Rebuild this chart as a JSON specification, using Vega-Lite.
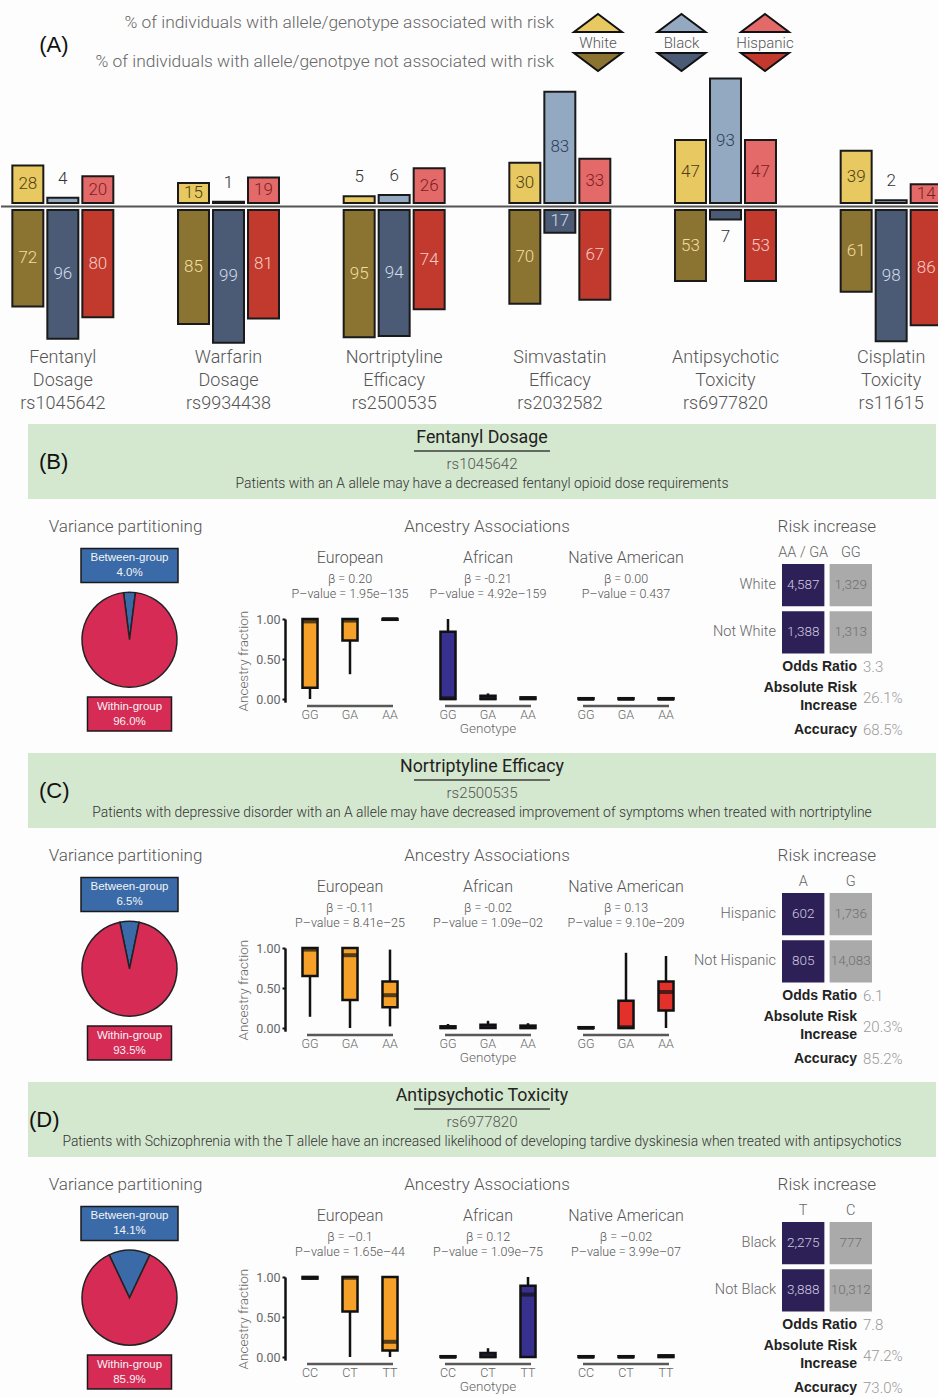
{
"$schema": "https://vega.github.io/schema/vega-lite/v6.json",
"padding": 0,
"background": "#fdfdfd",
"spacing": 0,
"bounds": "flush",
"config": {"view": {"stroke": null}, "font": "Roboto", "text": {"font": "Roboto", "fontWeight": 300}},
"datasets": {
"ancestries": [{"ancestry": "White"}, {"ancestry": "Black"}, {"ancestry": "Hispanic"}],
"legendtext": [{"row": "up", "text": "% of individuals with allele/genotype associated with risk"}, {"row": "down", "text": "% of individuals with allele/genotpye not associated with risk"}],
"drugs": [{"group": "Fentanyl Dosage rs1045642"}, {"group": "Warfarin Dosage rs9934438"}, {"group": "Nortriptyline Efficacy rs2500535"}, {"group": "Simvastatin Efficacy rs2032582"}, {"group": "Antipsychotic Toxicity rs6977820"}, {"group": "Cisplatin Toxicity rs11615"}],
"bars": [
{"group": "Fentanyl Dosage rs1045642", "ancestry": "White", "risk": 28, "norisk": 72},
{"group": "Fentanyl Dosage rs1045642", "ancestry": "Black", "risk": 4, "norisk": 96},
{"group": "Fentanyl Dosage rs1045642", "ancestry": "Hispanic", "risk": 20, "norisk": 80},
{"group": "Warfarin Dosage rs9934438", "ancestry": "White", "risk": 15, "norisk": 85},
{"group": "Warfarin Dosage rs9934438", "ancestry": "Black", "risk": 1, "norisk": 99},
{"group": "Warfarin Dosage rs9934438", "ancestry": "Hispanic", "risk": 19, "norisk": 81},
{"group": "Nortriptyline Efficacy rs2500535", "ancestry": "White", "risk": 5, "norisk": 95},
{"group": "Nortriptyline Efficacy rs2500535", "ancestry": "Black", "risk": 6, "norisk": 94},
{"group": "Nortriptyline Efficacy rs2500535", "ancestry": "Hispanic", "risk": 26, "norisk": 74},
{"group": "Simvastatin Efficacy rs2032582", "ancestry": "White", "risk": 30, "norisk": 70},
{"group": "Simvastatin Efficacy rs2032582", "ancestry": "Black", "risk": 83, "norisk": 17},
{"group": "Simvastatin Efficacy rs2032582", "ancestry": "Hispanic", "risk": 33, "norisk": 67},
{"group": "Antipsychotic Toxicity rs6977820", "ancestry": "White", "risk": 47, "norisk": 53},
{"group": "Antipsychotic Toxicity rs6977820", "ancestry": "Black", "risk": 93, "norisk": 7},
{"group": "Antipsychotic Toxicity rs6977820", "ancestry": "Hispanic", "risk": 47, "norisk": 53},
{"group": "Cisplatin Toxicity rs11615", "ancestry": "White", "risk": 39, "norisk": 61},
{"group": "Cisplatin Toxicity rs11615", "ancestry": "Black", "risk": 2, "norisk": 98},
{"group": "Cisplatin Toxicity rs11615", "ancestry": "Hispanic", "risk": 14, "norisk": 86}
],
"header": [
{"panel": "B", "label": "(B)", "title": "Fentanyl Dosage", "rsid": "rs1045642", "desc": "Patients with an A allele may have a decreased fentanyl opioid dose requirements"},
{"panel": "C", "label": "(C)", "title": "Nortriptyline Efficacy", "rsid": "rs2500535", "desc": "Patients with depressive disorder with an A allele may have decreased improvement of symptoms when treated with nortriptyline"},
{"panel": "D", "label": "(D)", "title": "Antipsychotic Toxicity", "rsid": "rs6977820", "desc": "Patients with Schizophrenia with the T allele have an increased likelihood of developing tardive dyskinesia when treated with antipsychotics"}
],
"pie": [
{"panel": "B", "part": "Between-group", "pct": 4.0, "label": "4.0%"},
{"panel": "B", "part": "Within-group", "pct": 96.0, "label": "96.0%"},
{"panel": "C", "part": "Between-group", "pct": 6.5, "label": "6.5%"},
{"panel": "C", "part": "Within-group", "pct": 93.5, "label": "93.5%"},
{"panel": "D", "part": "Between-group", "pct": 14.1, "label": "14.1%"},
{"panel": "D", "part": "Within-group", "pct": 85.9, "label": "85.9%"}
],
"box": [
{"panel": "B", "ancestry": "European", "genotype": "GG", "min": 0, "q1": 0.14, "median": 0.97, "q3": 1, "max": 1},
{"panel": "B", "ancestry": "European", "genotype": "GA", "min": 0.31, "q1": 0.73, "median": 0.98, "q3": 1, "max": 1},
{"panel": "B", "ancestry": "European", "genotype": "AA", "min": 0.99, "q1": 0.99, "median": 1, "q3": 1, "max": 1},
{"panel": "B", "ancestry": "African", "genotype": "GG", "min": 0, "q1": 0, "median": 0.01, "q3": 0.84, "max": 1},
{"panel": "B", "ancestry": "African", "genotype": "GA", "min": 0, "q1": 0, "median": 0.01, "q3": 0.04, "max": 0.07},
{"panel": "B", "ancestry": "African", "genotype": "AA", "min": 0, "q1": 0, "median": 0.01, "q3": 0.02, "max": 0.03},
{"panel": "B", "ancestry": "Native American", "genotype": "GG", "min": 0, "q1": 0, "median": 0, "q3": 0.01, "max": 0.02},
{"panel": "B", "ancestry": "Native American", "genotype": "GA", "min": 0, "q1": 0, "median": 0, "q3": 0.01, "max": 0.02},
{"panel": "B", "ancestry": "Native American", "genotype": "AA", "min": 0, "q1": 0, "median": 0, "q3": 0.01, "max": 0.02},
{"panel": "C", "ancestry": "European", "genotype": "GG", "min": 0.14, "q1": 0.65, "median": 0.98, "q3": 1, "max": 1},
{"panel": "C", "ancestry": "European", "genotype": "GA", "min": 0, "q1": 0.35, "median": 0.91, "q3": 1, "max": 1},
{"panel": "C", "ancestry": "European", "genotype": "AA", "min": 0.02, "q1": 0.26, "median": 0.41, "q3": 0.58, "max": 0.98},
{"panel": "C", "ancestry": "African", "genotype": "GG", "min": 0, "q1": 0, "median": 0.01, "q3": 0.02, "max": 0.05},
{"panel": "C", "ancestry": "African", "genotype": "GA", "min": 0, "q1": 0, "median": 0.02, "q3": 0.04, "max": 0.09},
{"panel": "C", "ancestry": "African", "genotype": "AA", "min": 0, "q1": 0, "median": 0.01, "q3": 0.03, "max": 0.06},
{"panel": "C", "ancestry": "Native American", "genotype": "GG", "min": 0, "q1": 0, "median": 0, "q3": 0.01, "max": 0.02},
{"panel": "C", "ancestry": "Native American", "genotype": "GA", "min": 0, "q1": 0, "median": 0.01, "q3": 0.34, "max": 0.94},
{"panel": "C", "ancestry": "Native American", "genotype": "AA", "min": 0, "q1": 0.22, "median": 0.45, "q3": 0.58, "max": 0.9},
{"panel": "D", "ancestry": "European", "genotype": "CC", "min": 0.97, "q1": 0.98, "median": 0.99, "q3": 1, "max": 1},
{"panel": "D", "ancestry": "European", "genotype": "CT", "min": 0, "q1": 0.57, "median": 0.99, "q3": 1, "max": 1},
{"panel": "D", "ancestry": "European", "genotype": "TT", "min": 0, "q1": 0.08, "median": 0.19, "q3": 1, "max": 1},
{"panel": "D", "ancestry": "African", "genotype": "CC", "min": 0, "q1": 0, "median": 0, "q3": 0.01, "max": 0.02},
{"panel": "D", "ancestry": "African", "genotype": "CT", "min": 0, "q1": 0, "median": 0.01, "q3": 0.05, "max": 0.11},
{"panel": "D", "ancestry": "African", "genotype": "TT", "min": 0, "q1": 0, "median": 0.78, "q3": 0.89, "max": 1},
{"panel": "D", "ancestry": "Native American", "genotype": "CC", "min": 0, "q1": 0, "median": 0, "q3": 0.01, "max": 0.02},
{"panel": "D", "ancestry": "Native American", "genotype": "CT", "min": 0, "q1": 0, "median": 0, "q3": 0.01, "max": 0.02},
{"panel": "D", "ancestry": "Native American", "genotype": "TT", "min": 0, "q1": 0, "median": 0.01, "q3": 0.02, "max": 0.03}
],
"bstats": [
{"panel": "B", "ancestry": "European", "beta": "β = 0.20", "pval": "P–value = 1.95e–135"},
{"panel": "B", "ancestry": "African", "beta": "β = -0.21", "pval": "P–value = 4.92e–159"},
{"panel": "B", "ancestry": "Native American", "beta": "β = 0.00", "pval": "P–value = 0.437"},
{"panel": "C", "ancestry": "European", "beta": "β = -0.11", "pval": "P–value = 8.41e–25"},
{"panel": "C", "ancestry": "African", "beta": "β = -0.02", "pval": "P–value = 1.09e–02"},
{"panel": "C", "ancestry": "Native American", "beta": "β = 0.13", "pval": "P–value = 9.10e–209"},
{"panel": "D", "ancestry": "European", "beta": "β = –0.1", "pval": "P–value = 1.65e–44"},
{"panel": "D", "ancestry": "African", "beta": "β = 0.12", "pval": "P–value = 1.09e–75"},
{"panel": "D", "ancestry": "Native American", "beta": "β = –0.02", "pval": "P–value = 3.99e–07"}
],
"heat": [
{"panel": "B", "row": "White", "col": "AA / GA", "n": 4587},
{"panel": "B", "row": "White", "col": "GG", "n": 1329},
{"panel": "B", "row": "Not White", "col": "AA / GA", "n": 1388},
{"panel": "B", "row": "Not White", "col": "GG", "n": 1313},
{"panel": "C", "row": "Hispanic", "col": "A", "n": 602},
{"panel": "C", "row": "Hispanic", "col": "G", "n": 1736},
{"panel": "C", "row": "Not Hispanic", "col": "A", "n": 805},
{"panel": "C", "row": "Not Hispanic", "col": "G", "n": 14083},
{"panel": "D", "row": "Black", "col": "T", "n": 2275},
{"panel": "D", "row": "Black", "col": "C", "n": 777},
{"panel": "D", "row": "Not Black", "col": "T", "n": 3888},
{"panel": "D", "row": "Not Black", "col": "C", "n": 10312}
],
"metrics": [
{"panel": "B", "metric": "Odds Ratio", "value": "3.3"},
{"panel": "B", "metric": "Absolute Risk\nIncrease", "value": "26.1%"},
{"panel": "B", "metric": "Accuracy", "value": "68.5%"},
{"panel": "C", "metric": "Odds Ratio", "value": "6.1"},
{"panel": "C", "metric": "Absolute Risk\nIncrease", "value": "20.3%"},
{"panel": "C", "metric": "Accuracy", "value": "85.2%"},
{"panel": "D", "metric": "Odds Ratio", "value": "7.8"},
{"panel": "D", "metric": "Absolute Risk\nIncrease", "value": "47.2%"},
{"panel": "D", "metric": "Accuracy", "value": "73.0%"}
]
},
"vconcat": [
{
"width": 938, "height": 419,
"resolve": {"scale": {"x": "independent", "y": "independent", "color": "independent"}},
"layer": [
{
"resolve": {"scale": {"color": "independent"}},
"layer": [
{"data": {"name": "ancestries"}, "mark": {"type": "point", "shape": "M0,-0.375L1,0.375L-1,0.375Z", "size": 2304, "filled": true, "opacity": 1, "stroke": "#111", "strokeWidth": 2},
 "encoding": {
  "x": {"field": "ancestry", "type": "nominal", "scale": {"type": "point", "domain": ["White", "Black", "Hispanic"], "range": [597, 764], "padding": 0}, "axis": null},
  "y": {"datum": "up", "type": "nominal", "scale": {"type": "point", "domain": ["up", "label", "down"], "range": [23, 62], "padding": 0}, "axis": null},
  "color": {"field": "ancestry", "type": "nominal", "scale": {"domain": ["White", "Black", "Hispanic"], "range": ["#e8c860", "#93a9c2", "#e46a6a"]}, "legend": null}}},
{"data": {"name": "ancestries"}, "mark": {"type": "point", "shape": "M-1,-0.375L1,-0.375L0,0.375Z", "size": 2304, "filled": true, "opacity": 1, "stroke": "#111", "strokeWidth": 2},
 "encoding": {
  "x": {"field": "ancestry", "type": "nominal", "scale": {"type": "point", "domain": ["White", "Black", "Hispanic"], "range": [597, 764], "padding": 0}, "axis": null},
  "y": {"datum": "down", "type": "nominal", "scale": {"type": "point", "domain": ["up", "label", "down"], "range": [23, 62], "padding": 0}, "axis": null},
  "color": {"field": "ancestry", "type": "nominal", "scale": {"domain": ["White", "Black", "Hispanic"], "range": ["#8b7332", "#4b5b75", "#c23a2e"]}, "legend": null}}},
{"data": {"name": "ancestries"}, "mark": {"type": "text", "fontSize": 15, "color": "#555"},
 "encoding": {
  "x": {"field": "ancestry", "type": "nominal", "scale": {"type": "point", "domain": ["White", "Black", "Hispanic"], "range": [597, 764], "padding": 0}, "axis": null},
  "y": {"datum": "label", "type": "nominal", "scale": {"type": "point", "domain": ["up", "label", "down"], "range": [23, 62], "padding": 0}, "axis": null},
  "text": {"field": "ancestry"}}},
{"data": {"name": "legendtext"}, "mark": {"type": "text", "align": "right", "dx": -44, "fontSize": 17.4, "color": "#666"},
 "encoding": {
  "x": {"datum": "White", "type": "nominal", "scale": {"type": "point", "domain": ["White", "Black", "Hispanic"], "range": [597, 764], "padding": 0}, "axis": null},
  "y": {"field": "row", "type": "nominal", "scale": {"type": "point", "domain": ["up", "label", "down"], "range": [23, 62], "padding": 0}, "axis": null},
  "text": {"field": "text"}}}
]
},
{
"resolve": {"scale": {"x": "independent", "y": "independent"}},
"layer": [
{"data": {"name": "drugs"}, "transform": [{"filter": "datum.group == 'Fentanyl Dosage rs1045642'"}],
 "mark": {"type": "rule", "color": "#555", "strokeWidth": 2},
 "encoding": {"y": {"datum": 0, "type": "quantitative", "scale": {"domain": [0, 100], "range": [206.5, 72.5]}, "axis": null}}},
{"data": {"name": "bars"}, "transform": [{"filter": "datum.ancestry == 'White'"}], "mark": {"type": "bar", "fill": "#e8c860", "stroke": "#1a1a1a", "strokeWidth": 2, "clip": true},
 "encoding": {"x": {"field": "group", "type": "nominal", "scale": {"domain": ["Fentanyl Dosage rs1045642", "Warfarin Dosage rs9934438", "Nortriptyline Efficacy rs2500535", "Simvastatin Efficacy rs2032582", "Antipsychotic Toxicity rs6977820", "Cisplatin Toxicity rs11615"], "range": [-56, 938], "paddingInner": 0.813, "paddingOuter": 0.4065}, "axis": null},
  "y": {"field": "risk", "type": "quantitative", "scale": {"domain": [0, 100], "range": [203, 69]}, "axis": null}}},
{"data": {"name": "bars"}, "transform": [{"filter": "datum.ancestry == 'Black'"}], "mark": {"type": "bar", "fill": "#93a9c2", "stroke": "#1a1a1a", "strokeWidth": 2, "clip": true},
 "encoding": {"x": {"field": "group", "type": "nominal", "scale": {"domain": ["Fentanyl Dosage rs1045642", "Warfarin Dosage rs9934438", "Nortriptyline Efficacy rs2500535", "Simvastatin Efficacy rs2032582", "Antipsychotic Toxicity rs6977820", "Cisplatin Toxicity rs11615"], "range": [-21, 973], "paddingInner": 0.813, "paddingOuter": 0.4065}, "axis": null},
  "y": {"field": "risk", "type": "quantitative", "scale": {"domain": [0, 100], "range": [203, 69]}, "axis": null}}},
{"data": {"name": "bars"}, "transform": [{"filter": "datum.ancestry == 'Hispanic'"}], "mark": {"type": "bar", "fill": "#e46a6a", "stroke": "#1a1a1a", "strokeWidth": 2, "clip": true},
 "encoding": {"x": {"field": "group", "type": "nominal", "scale": {"domain": ["Fentanyl Dosage rs1045642", "Warfarin Dosage rs9934438", "Nortriptyline Efficacy rs2500535", "Simvastatin Efficacy rs2032582", "Antipsychotic Toxicity rs6977820", "Cisplatin Toxicity rs11615"], "range": [14, 1008], "paddingInner": 0.813, "paddingOuter": 0.4065}, "axis": null},
  "y": {"field": "risk", "type": "quantitative", "scale": {"domain": [0, 100], "range": [203, 69]}, "axis": null}}},
{"data": {"name": "bars"}, "transform": [{"filter": "datum.ancestry == 'White'"}], "mark": {"type": "bar", "fill": "#8b7332", "stroke": "#1a1a1a", "strokeWidth": 2, "clip": true},
 "encoding": {"x": {"field": "group", "type": "nominal", "scale": {"domain": ["Fentanyl Dosage rs1045642", "Warfarin Dosage rs9934438", "Nortriptyline Efficacy rs2500535", "Simvastatin Efficacy rs2032582", "Antipsychotic Toxicity rs6977820", "Cisplatin Toxicity rs11615"], "range": [-56, 938], "paddingInner": 0.813, "paddingOuter": 0.4065}, "axis": null},
  "y": {"field": "norisk", "type": "quantitative", "scale": {"domain": [0, 100], "range": [210, 344]}, "axis": null}}},
{"data": {"name": "bars"}, "transform": [{"filter": "datum.ancestry == 'Black'"}], "mark": {"type": "bar", "fill": "#4b5b75", "stroke": "#1a1a1a", "strokeWidth": 2, "clip": true},
 "encoding": {"x": {"field": "group", "type": "nominal", "scale": {"domain": ["Fentanyl Dosage rs1045642", "Warfarin Dosage rs9934438", "Nortriptyline Efficacy rs2500535", "Simvastatin Efficacy rs2032582", "Antipsychotic Toxicity rs6977820", "Cisplatin Toxicity rs11615"], "range": [-21, 973], "paddingInner": 0.813, "paddingOuter": 0.4065}, "axis": null},
  "y": {"field": "norisk", "type": "quantitative", "scale": {"domain": [0, 100], "range": [210, 344]}, "axis": null}}},
{"data": {"name": "bars"}, "transform": [{"filter": "datum.ancestry == 'Hispanic'"}], "mark": {"type": "bar", "fill": "#c23a2e", "stroke": "#1a1a1a", "strokeWidth": 2, "clip": true},
 "encoding": {"x": {"field": "group", "type": "nominal", "scale": {"domain": ["Fentanyl Dosage rs1045642", "Warfarin Dosage rs9934438", "Nortriptyline Efficacy rs2500535", "Simvastatin Efficacy rs2032582", "Antipsychotic Toxicity rs6977820", "Cisplatin Toxicity rs11615"], "range": [14, 1008], "paddingInner": 0.813, "paddingOuter": 0.4065}, "axis": null},
  "y": {"field": "norisk", "type": "quantitative", "scale": {"domain": [0, 100], "range": [210, 344]}, "axis": null}}},
{"data": {"name": "bars"}, "transform": [{"filter": "datum.ancestry == 'White' && datum.risk < 10"}], "mark": {"type": "text", "baseline": "bottom", "dy": -10, "fontSize": 17, "color": "#333"},
 "encoding": {"x": {"field": "group", "type": "nominal", "scale": {"domain": ["Fentanyl Dosage rs1045642", "Warfarin Dosage rs9934438", "Nortriptyline Efficacy rs2500535", "Simvastatin Efficacy rs2032582", "Antipsychotic Toxicity rs6977820", "Cisplatin Toxicity rs11615"], "range": [-56, 938], "paddingInner": 0.813, "paddingOuter": 0.4065}, "axis": null},
  "y": {"field": "risk", "type": "quantitative", "scale": {"domain": [0, 100], "range": [203, 69]}, "axis": null}, "text": {"field": "risk"}}},
{"data": {"name": "bars"}, "transform": [{"filter": "datum.ancestry == 'Black' && datum.risk < 10"}], "mark": {"type": "text", "baseline": "bottom", "dy": -10, "fontSize": 17, "color": "#333"},
 "encoding": {"x": {"field": "group", "type": "nominal", "scale": {"domain": ["Fentanyl Dosage rs1045642", "Warfarin Dosage rs9934438", "Nortriptyline Efficacy rs2500535", "Simvastatin Efficacy rs2032582", "Antipsychotic Toxicity rs6977820", "Cisplatin Toxicity rs11615"], "range": [-21, 973], "paddingInner": 0.813, "paddingOuter": 0.4065}, "axis": null},
  "y": {"field": "risk", "type": "quantitative", "scale": {"domain": [0, 100], "range": [203, 69]}, "axis": null}, "text": {"field": "risk"}}},
{"data": {"name": "bars"}, "transform": [{"filter": "datum.ancestry == 'White' && datum.risk >= 10"}], "mark": {"type": "text", "fontSize": 17, "color": "#4d3f12"},
 "encoding": {"x": {"field": "group", "type": "nominal", "scale": {"domain": ["Fentanyl Dosage rs1045642", "Warfarin Dosage rs9934438", "Nortriptyline Efficacy rs2500535", "Simvastatin Efficacy rs2032582", "Antipsychotic Toxicity rs6977820", "Cisplatin Toxicity rs11615"], "range": [-56, 938], "paddingInner": 0.813, "paddingOuter": 0.4065}, "axis": null},
  "y": {"field": "risk", "type": "quantitative", "scale": {"domain": [0, 100], "range": [203, 136]}, "axis": null}, "text": {"field": "risk"}}},
{"data": {"name": "bars"}, "transform": [{"filter": "datum.ancestry == 'Black' && datum.risk >= 10"}], "mark": {"type": "text", "fontSize": 17, "color": "#2c3e58"},
 "encoding": {"x": {"field": "group", "type": "nominal", "scale": {"domain": ["Fentanyl Dosage rs1045642", "Warfarin Dosage rs9934438", "Nortriptyline Efficacy rs2500535", "Simvastatin Efficacy rs2032582", "Antipsychotic Toxicity rs6977820", "Cisplatin Toxicity rs11615"], "range": [-21, 973], "paddingInner": 0.813, "paddingOuter": 0.4065}, "axis": null},
  "y": {"field": "risk", "type": "quantitative", "scale": {"domain": [0, 100], "range": [203, 136]}, "axis": null}, "text": {"field": "risk"}}},
{"data": {"name": "bars"}, "transform": [{"filter": "datum.ancestry == 'Hispanic' && datum.risk >= 10"}], "mark": {"type": "text", "fontSize": 17, "color": "#7b1e1e"},
 "encoding": {"x": {"field": "group", "type": "nominal", "scale": {"domain": ["Fentanyl Dosage rs1045642", "Warfarin Dosage rs9934438", "Nortriptyline Efficacy rs2500535", "Simvastatin Efficacy rs2032582", "Antipsychotic Toxicity rs6977820", "Cisplatin Toxicity rs11615"], "range": [14, 1008], "paddingInner": 0.813, "paddingOuter": 0.4065}, "axis": null},
  "y": {"field": "risk", "type": "quantitative", "scale": {"domain": [0, 100], "range": [203, 136]}, "axis": null}, "text": {"field": "risk"}}},
{"data": {"name": "bars"}, "transform": [{"filter": "datum.ancestry == 'Black' && datum.norisk < 10"}], "mark": {"type": "text", "baseline": "top", "dy": 10, "fontSize": 17, "color": "#333"},
 "encoding": {"x": {"field": "group", "type": "nominal", "scale": {"domain": ["Fentanyl Dosage rs1045642", "Warfarin Dosage rs9934438", "Nortriptyline Efficacy rs2500535", "Simvastatin Efficacy rs2032582", "Antipsychotic Toxicity rs6977820", "Cisplatin Toxicity rs11615"], "range": [-21, 973], "paddingInner": 0.813, "paddingOuter": 0.4065}, "axis": null},
  "y": {"field": "norisk", "type": "quantitative", "scale": {"domain": [0, 100], "range": [210, 344]}, "axis": null}, "text": {"field": "norisk"}}},
{"data": {"name": "bars"}, "transform": [{"filter": "datum.ancestry == 'White' && datum.norisk >= 10"}], "mark": {"type": "text", "fontSize": 17, "color": "#f2dfa0"},
 "encoding": {"x": {"field": "group", "type": "nominal", "scale": {"domain": ["Fentanyl Dosage rs1045642", "Warfarin Dosage rs9934438", "Nortriptyline Efficacy rs2500535", "Simvastatin Efficacy rs2032582", "Antipsychotic Toxicity rs6977820", "Cisplatin Toxicity rs11615"], "range": [-56, 938], "paddingInner": 0.813, "paddingOuter": 0.4065}, "axis": null},
  "y": {"field": "norisk", "type": "quantitative", "scale": {"domain": [0, 100], "range": [210, 277]}, "axis": null}, "text": {"field": "norisk"}}},
{"data": {"name": "bars"}, "transform": [{"filter": "datum.ancestry == 'Black' && datum.norisk >= 10"}], "mark": {"type": "text", "fontSize": 17, "color": "#d2dcea"},
 "encoding": {"x": {"field": "group", "type": "nominal", "scale": {"domain": ["Fentanyl Dosage rs1045642", "Warfarin Dosage rs9934438", "Nortriptyline Efficacy rs2500535", "Simvastatin Efficacy rs2032582", "Antipsychotic Toxicity rs6977820", "Cisplatin Toxicity rs11615"], "range": [-21, 973], "paddingInner": 0.813, "paddingOuter": 0.4065}, "axis": null},
  "y": {"field": "norisk", "type": "quantitative", "scale": {"domain": [0, 100], "range": [210, 277]}, "axis": null}, "text": {"field": "norisk"}}},
{"data": {"name": "bars"}, "transform": [{"filter": "datum.ancestry == 'Hispanic' && datum.norisk >= 10"}], "mark": {"type": "text", "fontSize": 17, "color": "#f8cbc4"},
 "encoding": {"x": {"field": "group", "type": "nominal", "scale": {"domain": ["Fentanyl Dosage rs1045642", "Warfarin Dosage rs9934438", "Nortriptyline Efficacy rs2500535", "Simvastatin Efficacy rs2032582", "Antipsychotic Toxicity rs6977820", "Cisplatin Toxicity rs11615"], "range": [14, 1008], "paddingInner": 0.813, "paddingOuter": 0.4065}, "axis": null},
  "y": {"field": "norisk", "type": "quantitative", "scale": {"domain": [0, 100], "range": [210, 277]}, "axis": null}, "text": {"field": "norisk"}}},
{"data": {"name": "drugs"}, "mark": {"type": "text", "baseline": "top", "dy": 4.5, "fontSize": 18, "color": "#555", "lineBreak": " ", "lineHeight": 23},
 "encoding": {"x": {"field": "group", "type": "nominal", "scale": {"domain": ["Fentanyl Dosage rs1045642", "Warfarin Dosage rs9934438", "Nortriptyline Efficacy rs2500535", "Simvastatin Efficacy rs2032582", "Antipsychotic Toxicity rs6977820", "Cisplatin Toxicity rs11615"], "range": [-21, 973], "paddingInner": 0.813, "paddingOuter": 0.4065}, "axis": null},
  "y": {"datum": 100, "type": "quantitative", "scale": {"domain": [0, 100], "range": [210, 344]}, "axis": null},
  "text": {"field": "group"}}},
{"data": {"name": "drugs"}, "transform": [{"filter": "datum.group == 'Fentanyl Dosage rs1045642'"}],
 "mark": {"type": "text", "text": "(A)", "dx": -9, "fontSize": 22, "font": "Liberation Sans", "fontWeight": 400, "color": "#111"},
 "encoding": {"x": {"field": "group", "type": "nominal", "scale": {"domain": ["Fentanyl Dosage rs1045642", "Warfarin Dosage rs9934438", "Nortriptyline Efficacy rs2500535", "Simvastatin Efficacy rs2032582", "Antipsychotic Toxicity rs6977820", "Cisplatin Toxicity rs11615"], "range": [-21, 973], "paddingInner": 0.813, "paddingOuter": 0.4065}, "axis": null},
  "y": {"datum": 118, "type": "quantitative", "scale": {"domain": [0, 100], "range": [203, 69]}, "axis": null}}}
]
}
]
},
{
"width": 938, "height": 329,
"resolve": {"scale": {"x": "independent", "y": "independent", "color": "independent"}},
"layer": [
{
"data": {"name": "header"}, "transform": [{"filter": "datum.panel == 'B'"}],
"encoding": {
 "x": {"field": "title", "type": "nominal", "scale": {"range": [27, 935], "paddingInner": 0, "paddingOuter": 0}, "axis": null},
 "y": {"field": "title", "type": "nominal", "scale": {"range": [5, 80], "paddingInner": 0, "paddingOuter": 0}, "axis": null}},
"layer": [
 {"mark": {"type": "rect", "color": "#d4e7cf"}},
 {"mark": {"type": "text", "dy": -23.5, "fontSize": 17.8, "fontWeight": 400, "color": "#222"}, "encoding": {"text": {"field": "title"}}},
 {"mark": {"type": "tick", "orient": "horizontal", "size": 136, "thickness": 2, "color": "#333", "yOffset": -10.5}},
 {"mark": {"type": "text", "dy": 2, "fontSize": 15, "color": "#555"}, "encoding": {"text": {"field": "rsid"}}},
 {"mark": {"type": "text", "dy": 22.5, "fontSize": 13.9, "color": "#333"}, "encoding": {"text": {"field": "desc"}}},
 {"mark": {"type": "text", "align": "left", "dx": 11, "fontSize": 22, "font": "Liberation Sans", "fontWeight": 400, "color": "#111"},
  "encoding": {"x": {"field": "title", "type": "nominal", "bandPosition": 0, "scale": {"range": [27, 935], "paddingInner": 0, "paddingOuter": 0}, "axis": null}, "text": {"field": "label"}}}
]
},
{
"data": {"name": "pie"}, "transform": [{"filter": "datum.panel == 'B'"}],
"encoding": {"x": {"datum": "pie", "type": "nominal", "scale": {"type": "point", "domain": ["pie"], "range": [81, 176], "padding": 0.5}, "axis": null}},
"layer": [
 {"mark": {"type": "arc", "radius": 47.5, "stroke": "#222", "strokeWidth": 1.5},
  "encoding": {
   "y": {"datum": "pie", "type": "nominal", "scale": {"type": "point", "domain": ["Between-group", "pie", "Within-group"], "range": [146.5, 295], "padding": 0}, "axis": null},
   "theta": {"field": "pct", "type": "quantitative", "scale": {"range": [-0.1257, 6.1575]}},
   "color": {"field": "part", "type": "nominal", "scale": {"domain": ["Between-group", "Within-group"], "range": ["#3a6aa8", "#d52b55"]}, "legend": null}}},
 {"transform": [{"filter": "datum.part == 'Between-group'"}],
  "mark": {"type": "point", "shape": "M-1,-0.35H1V0.35H-1Z", "size": 9409, "filled": true, "opacity": 1, "fill": "#3a6aa8", "stroke": "#1a1a1a", "strokeWidth": 1.5},
  "encoding": {"y": {"field": "part", "type": "nominal", "scale": {"type": "point", "domain": ["Between-group", "pie", "Within-group"], "range": [146.5, 295], "padding": 0}, "axis": null}}},
 {"transform": [{"filter": "datum.part == 'Within-group'"}],
  "mark": {"type": "point", "shape": "M-1,-0.405H1V0.405H-1Z", "size": 7056, "filled": true, "opacity": 1, "fill": "#d52b55", "stroke": "#1a1a1a", "strokeWidth": 1.5},
  "encoding": {"y": {"field": "part", "type": "nominal", "scale": {"type": "point", "domain": ["Between-group", "pie", "Within-group"], "range": [146.5, 295], "padding": 0}, "axis": null}}},
 {"mark": {"type": "text", "dy": -7.5, "fontSize": 11.5, "font": "Liberation Sans", "fontWeight": 400, "color": "#f4f4f4"},
  "encoding": {"y": {"field": "part", "type": "nominal", "scale": {"type": "point", "domain": ["Between-group", "pie", "Within-group"], "range": [146.5, 295], "padding": 0}, "axis": null}, "text": {"field": "part"}}},
 {"mark": {"type": "text", "dy": 7.5, "fontSize": 11.5, "font": "Liberation Sans", "fontWeight": 400, "color": "#f4f4f4"},
  "encoding": {"y": {"field": "part", "type": "nominal", "scale": {"type": "point", "domain": ["Between-group", "pie", "Within-group"], "range": [146.5, 295], "padding": 0}, "axis": null}, "text": {"field": "label"}}},
 {"transform": [{"filter": "datum.part == 'Between-group'"}],
  "mark": {"type": "text", "text": "Variance partitioning", "dx": -4, "dy": -38.5, "fontSize": 17, "color": "#555"},
  "encoding": {"y": {"field": "part", "type": "nominal", "scale": {"type": "point", "domain": ["Between-group", "pie", "Within-group"], "range": [146.5, 295], "padding": 0}, "axis": null}}}
]
},
{
"resolve": {"scale": {"x": "independent"}},
"layer": [
 {"data": {"name": "box"}, "transform": [{"filter": "datum.panel == 'B' && datum.genotype == 'GG'"}], "mark": {"type": "rule", "color": "#111", "strokeWidth": 2.5},
  "encoding": {"x": {"field": "ancestry", "type": "nominal", "scale": {"domain": ["European", "African", "Native American"], "range": [240, 654], "paddingInner": 0.891, "paddingOuter": 0.4455}, "axis": null},
   "y": {"field": "min", "type": "quantitative", "scale": {"domain": [-0.04, 1], "range": [283.2, 200], "nice": false, "zero": false}, "axis": {"orient": "left", "offset": -284, "values": [0, 0.5, 1], "format": ".2f", "title": "Ancestry fraction", "grid": false, "domainColor": "#111", "domainWidth": 2.5, "tickColor": "#111", "tickWidth": 2, "tickSize": 3, "labelFontSize": 12.5, "labelColor": "#666", "labelPadding": 2, "titleFontSize": 13.5, "titleColor": "#666", "titleFontWeight": 300, "titlePadding": 5}},
   "y2": {"field": "max"}}},
 {"data": {"name": "box"}, "transform": [{"filter": "datum.panel == 'B' && datum.genotype == 'GA'"}], "mark": {"type": "rule", "color": "#111", "strokeWidth": 2.5},
  "encoding": {"x": {"field": "ancestry", "type": "nominal", "scale": {"domain": ["European", "African", "Native American"], "range": [280, 694], "paddingInner": 0.891, "paddingOuter": 0.4455}, "axis": null},
   "y": {"field": "min", "type": "quantitative", "scale": {"domain": [-0.04, 1], "range": [283.2, 200], "nice": false, "zero": false}, "axis": {"orient": "left", "offset": -284, "values": [0, 0.5, 1], "format": ".2f", "title": "Ancestry fraction", "grid": false, "domainColor": "#111", "domainWidth": 2.5, "tickColor": "#111", "tickWidth": 2, "tickSize": 3, "labelFontSize": 12.5, "labelColor": "#666", "labelPadding": 2, "titleFontSize": 13.5, "titleColor": "#666", "titleFontWeight": 300, "titlePadding": 5}},
   "y2": {"field": "max"}}},
 {"data": {"name": "box"}, "transform": [{"filter": "datum.panel == 'B' && datum.genotype == 'AA'"}], "mark": {"type": "rule", "color": "#111", "strokeWidth": 2.5},
  "encoding": {"x": {"field": "ancestry", "type": "nominal", "scale": {"domain": ["European", "African", "Native American"], "range": [320, 734], "paddingInner": 0.891, "paddingOuter": 0.4455}, "axis": null},
   "y": {"field": "min", "type": "quantitative", "scale": {"domain": [-0.04, 1], "range": [283.2, 200], "nice": false, "zero": false}, "axis": {"orient": "left", "offset": -284, "values": [0, 0.5, 1], "format": ".2f", "title": "Ancestry fraction", "grid": false, "domainColor": "#111", "domainWidth": 2.5, "tickColor": "#111", "tickWidth": 2, "tickSize": 3, "labelFontSize": 12.5, "labelColor": "#666", "labelPadding": 2, "titleFontSize": 13.5, "titleColor": "#666", "titleFontWeight": 300, "titlePadding": 5}},
   "y2": {"field": "max"}}},
 {"data": {"name": "box"}, "transform": [{"filter": "datum.panel == 'B' && datum.genotype == 'GG'"}], "mark": {"type": "bar", "stroke": "#111", "strokeWidth": 2.5},
  "encoding": {"x": {"field": "ancestry", "type": "nominal", "scale": {"domain": ["European", "African", "Native American"], "range": [240, 654], "paddingInner": 0.891, "paddingOuter": 0.4455}, "axis": null},
   "y": {"field": "q1", "type": "quantitative", "scale": {"domain": [-0.04, 1], "range": [283.2, 200], "nice": false, "zero": false}, "axis": {"orient": "left", "offset": -284, "values": [0, 0.5, 1], "format": ".2f", "title": "Ancestry fraction", "grid": false, "domainColor": "#111", "domainWidth": 2.5, "tickColor": "#111", "tickWidth": 2, "tickSize": 3, "labelFontSize": 12.5, "labelColor": "#666", "labelPadding": 2, "titleFontSize": 13.5, "titleColor": "#666", "titleFontWeight": 300, "titlePadding": 5}},
   "y2": {"field": "q3"},
   "color": {"field": "ancestry", "type": "nominal", "scale": {"domain": ["European", "African", "Native American"], "range": ["#f5a028", "#37308f", "#e2312b"]}, "legend": null}}},
 {"data": {"name": "box"}, "transform": [{"filter": "datum.panel == 'B' && datum.genotype == 'GA'"}], "mark": {"type": "bar", "stroke": "#111", "strokeWidth": 2.5},
  "encoding": {"x": {"field": "ancestry", "type": "nominal", "scale": {"domain": ["European", "African", "Native American"], "range": [280, 694], "paddingInner": 0.891, "paddingOuter": 0.4455}, "axis": null},
   "y": {"field": "q1", "type": "quantitative", "scale": {"domain": [-0.04, 1], "range": [283.2, 200], "nice": false, "zero": false}, "axis": {"orient": "left", "offset": -284, "values": [0, 0.5, 1], "format": ".2f", "title": "Ancestry fraction", "grid": false, "domainColor": "#111", "domainWidth": 2.5, "tickColor": "#111", "tickWidth": 2, "tickSize": 3, "labelFontSize": 12.5, "labelColor": "#666", "labelPadding": 2, "titleFontSize": 13.5, "titleColor": "#666", "titleFontWeight": 300, "titlePadding": 5}},
   "y2": {"field": "q3"},
   "color": {"field": "ancestry", "type": "nominal", "scale": {"domain": ["European", "African", "Native American"], "range": ["#f5a028", "#37308f", "#e2312b"]}, "legend": null}}},
 {"data": {"name": "box"}, "transform": [{"filter": "datum.panel == 'B' && datum.genotype == 'AA'"}], "mark": {"type": "bar", "stroke": "#111", "strokeWidth": 2.5},
  "encoding": {"x": {"field": "ancestry", "type": "nominal", "scale": {"domain": ["European", "African", "Native American"], "range": [320, 734], "paddingInner": 0.891, "paddingOuter": 0.4455}, "axis": null},
   "y": {"field": "q1", "type": "quantitative", "scale": {"domain": [-0.04, 1], "range": [283.2, 200], "nice": false, "zero": false}, "axis": {"orient": "left", "offset": -284, "values": [0, 0.5, 1], "format": ".2f", "title": "Ancestry fraction", "grid": false, "domainColor": "#111", "domainWidth": 2.5, "tickColor": "#111", "tickWidth": 2, "tickSize": 3, "labelFontSize": 12.5, "labelColor": "#666", "labelPadding": 2, "titleFontSize": 13.5, "titleColor": "#666", "titleFontWeight": 300, "titlePadding": 5}},
   "y2": {"field": "q3"},
   "color": {"field": "ancestry", "type": "nominal", "scale": {"domain": ["European", "African", "Native American"], "range": ["#f5a028", "#37308f", "#e2312b"]}, "legend": null}}},
 {"data": {"name": "box"}, "transform": [{"filter": "datum.panel == 'B' && datum.genotype == 'GG'"}], "mark": {"type": "tick", "orient": "horizontal", "color": "#111", "thickness": 4, "size": 16},
  "encoding": {"x": {"field": "ancestry", "type": "nominal", "scale": {"domain": ["European", "African", "Native American"], "range": [240, 654], "paddingInner": 0.891, "paddingOuter": 0.4455}, "axis": null},
   "y": {"field": "median", "type": "quantitative", "scale": {"domain": [-0.04, 1], "range": [283.2, 200], "nice": false, "zero": false}, "axis": {"orient": "left", "offset": -284, "values": [0, 0.5, 1], "format": ".2f", "title": "Ancestry fraction", "grid": false, "domainColor": "#111", "domainWidth": 2.5, "tickColor": "#111", "tickWidth": 2, "tickSize": 3, "labelFontSize": 12.5, "labelColor": "#666", "labelPadding": 2, "titleFontSize": 13.5, "titleColor": "#666", "titleFontWeight": 300, "titlePadding": 5}}}},
 {"data": {"name": "box"}, "transform": [{"filter": "datum.panel == 'B' && datum.genotype == 'GA'"}], "mark": {"type": "tick", "orient": "horizontal", "color": "#111", "thickness": 4, "size": 16},
  "encoding": {"x": {"field": "ancestry", "type": "nominal", "scale": {"domain": ["European", "African", "Native American"], "range": [280, 694], "paddingInner": 0.891, "paddingOuter": 0.4455}, "axis": null},
   "y": {"field": "median", "type": "quantitative", "scale": {"domain": [-0.04, 1], "range": [283.2, 200], "nice": false, "zero": false}, "axis": {"orient": "left", "offset": -284, "values": [0, 0.5, 1], "format": ".2f", "title": "Ancestry fraction", "grid": false, "domainColor": "#111", "domainWidth": 2.5, "tickColor": "#111", "tickWidth": 2, "tickSize": 3, "labelFontSize": 12.5, "labelColor": "#666", "labelPadding": 2, "titleFontSize": 13.5, "titleColor": "#666", "titleFontWeight": 300, "titlePadding": 5}}}},
 {"data": {"name": "box"}, "transform": [{"filter": "datum.panel == 'B' && datum.genotype == 'AA'"}], "mark": {"type": "tick", "orient": "horizontal", "color": "#111", "thickness": 4, "size": 16},
  "encoding": {"x": {"field": "ancestry", "type": "nominal", "scale": {"domain": ["European", "African", "Native American"], "range": [320, 734], "paddingInner": 0.891, "paddingOuter": 0.4455}, "axis": null},
   "y": {"field": "median", "type": "quantitative", "scale": {"domain": [-0.04, 1], "range": [283.2, 200], "nice": false, "zero": false}, "axis": {"orient": "left", "offset": -284, "values": [0, 0.5, 1], "format": ".2f", "title": "Ancestry fraction", "grid": false, "domainColor": "#111", "domainWidth": 2.5, "tickColor": "#111", "tickWidth": 2, "tickSize": 3, "labelFontSize": 12.5, "labelColor": "#666", "labelPadding": 2, "titleFontSize": 13.5, "titleColor": "#666", "titleFontWeight": 300, "titlePadding": 5}}}},
 {"data": {"name": "box"}, "transform": [{"filter": "datum.panel == 'B' && datum.genotype == 'GG'"}], "mark": {"type": "text", "baseline": "top", "dy": 3, "fontSize": 12.5, "color": "#666"},
  "encoding": {"x": {"field": "ancestry", "type": "nominal", "scale": {"domain": ["European", "African", "Native American"], "range": [240, 654], "paddingInner": 0.891, "paddingOuter": 0.4455}, "axis": null},
   "y": {"datum": -0.0875, "type": "quantitative", "scale": {"domain": [-0.04, 1], "range": [283.2, 200], "nice": false, "zero": false}, "axis": {"orient": "left", "offset": -284, "values": [0, 0.5, 1], "format": ".2f", "title": "Ancestry fraction", "grid": false, "domainColor": "#111", "domainWidth": 2.5, "tickColor": "#111", "tickWidth": 2, "tickSize": 3, "labelFontSize": 12.5, "labelColor": "#666", "labelPadding": 2, "titleFontSize": 13.5, "titleColor": "#666", "titleFontWeight": 300, "titlePadding": 5}}, "text": {"field": "genotype"}}},
 {"data": {"name": "box"}, "transform": [{"filter": "datum.panel == 'B' && datum.genotype == 'GA'"}], "mark": {"type": "text", "baseline": "top", "dy": 3, "fontSize": 12.5, "color": "#666"},
  "encoding": {"x": {"field": "ancestry", "type": "nominal", "scale": {"domain": ["European", "African", "Native American"], "range": [280, 694], "paddingInner": 0.891, "paddingOuter": 0.4455}, "axis": null},
   "y": {"datum": -0.0875, "type": "quantitative", "scale": {"domain": [-0.04, 1], "range": [283.2, 200], "nice": false, "zero": false}, "axis": {"orient": "left", "offset": -284, "values": [0, 0.5, 1], "format": ".2f", "title": "Ancestry fraction", "grid": false, "domainColor": "#111", "domainWidth": 2.5, "tickColor": "#111", "tickWidth": 2, "tickSize": 3, "labelFontSize": 12.5, "labelColor": "#666", "labelPadding": 2, "titleFontSize": 13.5, "titleColor": "#666", "titleFontWeight": 300, "titlePadding": 5}}, "text": {"field": "genotype"}}},
 {"data": {"name": "box"}, "transform": [{"filter": "datum.panel == 'B' && datum.genotype == 'AA'"}], "mark": {"type": "text", "baseline": "top", "dy": 3, "fontSize": 12.5, "color": "#666"},
  "encoding": {"x": {"field": "ancestry", "type": "nominal", "scale": {"domain": ["European", "African", "Native American"], "range": [320, 734], "paddingInner": 0.891, "paddingOuter": 0.4455}, "axis": null},
   "y": {"datum": -0.0875, "type": "quantitative", "scale": {"domain": [-0.04, 1], "range": [283.2, 200], "nice": false, "zero": false}, "axis": {"orient": "left", "offset": -284, "values": [0, 0.5, 1], "format": ".2f", "title": "Ancestry fraction", "grid": false, "domainColor": "#111", "domainWidth": 2.5, "tickColor": "#111", "tickWidth": 2, "tickSize": 3, "labelFontSize": 12.5, "labelColor": "#666", "labelPadding": 2, "titleFontSize": 13.5, "titleColor": "#666", "titleFontWeight": 300, "titlePadding": 5}}, "text": {"field": "genotype"}}},
 {"data": {"name": "bstats"}, "transform": [{"filter": "datum.panel == 'B'"}], "mark": {"type": "tick", "orient": "horizontal", "color": "#111", "thickness": 2.5, "size": 86},
  "encoding": {"x": {"field": "ancestry", "type": "nominal", "scale": {"domain": ["European", "African", "Native American"], "range": [280, 694], "paddingInner": 0, "paddingOuter": 0}, "axis": null},
   "y": {"datum": -0.0875, "type": "quantitative", "scale": {"domain": [-0.04, 1], "range": [283.2, 200], "nice": false, "zero": false}, "axis": {"orient": "left", "offset": -284, "values": [0, 0.5, 1], "format": ".2f", "title": "Ancestry fraction", "grid": false, "domainColor": "#111", "domainWidth": 2.5, "tickColor": "#111", "tickWidth": 2, "tickSize": 3, "labelFontSize": 12.5, "labelColor": "#666", "labelPadding": 2, "titleFontSize": 13.5, "titleColor": "#666", "titleFontWeight": 300, "titlePadding": 5}}}},
 {"data": {"name": "bstats"}, "transform": [{"filter": "datum.panel == 'B'"}], "mark": {"type": "text", "dy": -61, "fontSize": 16, "color": "#555"},
  "encoding": {"x": {"field": "ancestry", "type": "nominal", "scale": {"domain": ["European", "African", "Native American"], "range": [280, 694], "paddingInner": 0, "paddingOuter": 0}, "axis": null},
   "y": {"datum": 1, "type": "quantitative", "scale": {"domain": [-0.04, 1], "range": [283.2, 200], "nice": false, "zero": false}, "axis": {"orient": "left", "offset": -284, "values": [0, 0.5, 1], "format": ".2f", "title": "Ancestry fraction", "grid": false, "domainColor": "#111", "domainWidth": 2.5, "tickColor": "#111", "tickWidth": 2, "tickSize": 3, "labelFontSize": 12.5, "labelColor": "#666", "labelPadding": 2, "titleFontSize": 13.5, "titleColor": "#666", "titleFontWeight": 300, "titlePadding": 5}}, "text": {"field": "ancestry"}}},
 {"data": {"name": "bstats"}, "transform": [{"filter": "datum.panel == 'B'"}], "mark": {"type": "text", "dy": -40, "fontSize": 12.5, "color": "#555"},
  "encoding": {"x": {"field": "ancestry", "type": "nominal", "scale": {"domain": ["European", "African", "Native American"], "range": [280, 694], "paddingInner": 0, "paddingOuter": 0}, "axis": null},
   "y": {"datum": 1, "type": "quantitative", "scale": {"domain": [-0.04, 1], "range": [283.2, 200], "nice": false, "zero": false}, "axis": {"orient": "left", "offset": -284, "values": [0, 0.5, 1], "format": ".2f", "title": "Ancestry fraction", "grid": false, "domainColor": "#111", "domainWidth": 2.5, "tickColor": "#111", "tickWidth": 2, "tickSize": 3, "labelFontSize": 12.5, "labelColor": "#666", "labelPadding": 2, "titleFontSize": 13.5, "titleColor": "#666", "titleFontWeight": 300, "titlePadding": 5}}, "text": {"field": "beta"}}},
 {"data": {"name": "bstats"}, "transform": [{"filter": "datum.panel == 'B'"}], "mark": {"type": "text", "dy": -25, "fontSize": 12.5, "color": "#555"},
  "encoding": {"x": {"field": "ancestry", "type": "nominal", "scale": {"domain": ["European", "African", "Native American"], "range": [280, 694], "paddingInner": 0, "paddingOuter": 0}, "axis": null},
   "y": {"datum": 1, "type": "quantitative", "scale": {"domain": [-0.04, 1], "range": [283.2, 200], "nice": false, "zero": false}, "axis": {"orient": "left", "offset": -284, "values": [0, 0.5, 1], "format": ".2f", "title": "Ancestry fraction", "grid": false, "domainColor": "#111", "domainWidth": 2.5, "tickColor": "#111", "tickWidth": 2, "tickSize": 3, "labelFontSize": 12.5, "labelColor": "#666", "labelPadding": 2, "titleFontSize": 13.5, "titleColor": "#666", "titleFontWeight": 300, "titlePadding": 5}}, "text": {"field": "pval"}}},
 {"data": {"name": "bstats"}, "transform": [{"filter": "datum.panel == 'B' && datum.ancestry == 'African'"}], "mark": {"type": "text", "text": "Genotype", "dy": 23, "fontSize": 13.5, "color": "#666"},
  "encoding": {"x": {"field": "ancestry", "type": "nominal", "scale": {"domain": ["European", "African", "Native American"], "range": [280, 694], "paddingInner": 0, "paddingOuter": 0}, "axis": null},
   "y": {"datum": -0.0875, "type": "quantitative", "scale": {"domain": [-0.04, 1], "range": [283.2, 200], "nice": false, "zero": false}, "axis": {"orient": "left", "offset": -284, "values": [0, 0.5, 1], "format": ".2f", "title": "Ancestry fraction", "grid": false, "domainColor": "#111", "domainWidth": 2.5, "tickColor": "#111", "tickWidth": 2, "tickSize": 3, "labelFontSize": 12.5, "labelColor": "#666", "labelPadding": 2, "titleFontSize": 13.5, "titleColor": "#666", "titleFontWeight": 300, "titlePadding": 5}}}},
 {"data": {"name": "bstats"}, "transform": [{"filter": "datum.panel == 'B' && datum.ancestry == 'African'"}], "mark": {"type": "text", "text": "Ancestry Associations", "dx": -1, "dy": -92, "fontSize": 17, "color": "#555"},
  "encoding": {"x": {"field": "ancestry", "type": "nominal", "scale": {"domain": ["European", "African", "Native American"], "range": [280, 694], "paddingInner": 0, "paddingOuter": 0}, "axis": null},
   "y": {"datum": 1, "type": "quantitative", "scale": {"domain": [-0.04, 1], "range": [283.2, 200], "nice": false, "zero": false}, "axis": {"orient": "left", "offset": -284, "values": [0, 0.5, 1], "format": ".2f", "title": "Ancestry fraction", "grid": false, "domainColor": "#111", "domainWidth": 2.5, "tickColor": "#111", "tickWidth": 2, "tickSize": 3, "labelFontSize": 12.5, "labelColor": "#666", "labelPadding": 2, "titleFontSize": 13.5, "titleColor": "#666", "titleFontWeight": 300, "titlePadding": 5}}}}
]
},
{
"data": {"name": "heat"}, "transform": [{"filter": "datum.panel == 'B'"}],
"encoding": {
 "x": {"field": "col", "type": "nominal", "scale": {"domain": ["AA / GA", "GG"], "range": [781, 871], "paddingInner": 0.11, "paddingOuter": 0}, "axis": null},
 "y": {"field": "row", "type": "nominal", "scale": {"domain": ["White", "Not White"], "range": [145, 234.5], "paddingInner": 0.11, "paddingOuter": 0}, "axis": null}},
"layer": [
 {"mark": {"type": "rect"}, "encoding": {"fill": {"field": "col", "type": "nominal", "scale": {"domain": ["AA / GA", "GG"], "range": ["#2d2057", "#aaaaaa"]}, "legend": null}}},
 {"mark": {"type": "text", "fontSize": 13.5}, "encoding": {"text": {"field": "n", "type": "quantitative", "format": ",d"}, "color": {"field": "col", "type": "nominal", "scale": {"domain": ["AA / GA", "GG"], "range": ["#cfcbe0", "#707070"]}, "legend": null}}},
 {"transform": [{"filter": "datum.row == 'White'"}], "mark": {"type": "text", "dy": -11, "fontSize": 14.5, "color": "#666"},
  "encoding": {"y": {"field": "row", "type": "nominal", "bandPosition": 0, "scale": {"domain": ["White", "Not White"], "range": [145, 234.5], "paddingInner": 0.11, "paddingOuter": 0}, "axis": null}, "text": {"field": "col"}}},
 {"transform": [{"filter": "datum.col == 'AA / GA'"}], "mark": {"type": "text", "align": "right", "dx": -6, "fontSize": 14.5, "color": "#666"},
  "encoding": {"x": {"field": "col", "type": "nominal", "bandPosition": 0, "scale": {"domain": ["AA / GA", "GG"], "range": [781, 871], "paddingInner": 0.11, "paddingOuter": 0}, "axis": null}, "text": {"field": "row"}}},
 {"transform": [{"filter": "datum.row == 'White' && datum.col == 'AA / GA'"}], "mark": {"type": "text", "text": "Risk increase", "dx": 2.5, "dy": -37, "fontSize": 17, "color": "#555"},
  "encoding": {"x": {"field": "col", "type": "nominal", "bandPosition": 1, "scale": {"domain": ["AA / GA", "GG"], "range": [781, 871], "paddingInner": 0.11, "paddingOuter": 0}, "axis": null},
   "y": {"field": "row", "type": "nominal", "bandPosition": 0, "scale": {"domain": ["White", "Not White"], "range": [145, 234.5], "paddingInner": 0.11, "paddingOuter": 0}, "axis": null}}}
]
},
{
"data": {"name": "metrics"}, "transform": [{"filter": "datum.panel == 'B'"}],
"encoding": {"y": {"field": "metric", "type": "nominal", "scale": {"type": "point", "domain": ["Odds Ratio", "Absolute Risk\nIncrease", "gap", "Accuracy"], "range": [248, 311], "padding": 0}, "axis": null}},
"layer": [
 {"mark": {"type": "text", "align": "right", "font": "Liberation Sans", "fontWeight": "bold", "fontSize": 14, "color": "#222", "lineBreak": "\n", "lineHeight": 18},
  "encoding": {"x": {"datum": "label", "type": "nominal", "scale": {"type": "point", "domain": ["label", "value"], "range": [856, 862], "padding": 0}, "axis": null}, "text": {"field": "metric"}}},
 {"transform": [{"filter": "indexof(datum.metric, 'Increase') < 0"}], "mark": {"type": "text", "align": "left", "fontSize": 15, "color": "#999"},
  "encoding": {"x": {"datum": "value", "type": "nominal", "scale": {"type": "point", "domain": ["label", "value"], "range": [856, 862], "padding": 0}, "axis": null}, "text": {"field": "value"}}},
 {"transform": [{"filter": "indexof(datum.metric, 'Increase') >= 0"}], "mark": {"type": "text", "align": "left", "dy": 10, "fontSize": 15, "color": "#999"},
  "encoding": {"x": {"datum": "value", "type": "nominal", "scale": {"type": "point", "domain": ["label", "value"], "range": [856, 862], "padding": 0}, "axis": null}, "text": {"field": "value"}}}
]
}
]
},
{
"width": 938, "height": 329,
"resolve": {"scale": {"x": "independent", "y": "independent", "color": "independent"}},
"layer": [
{
"data": {"name": "header"}, "transform": [{"filter": "datum.panel == 'C'"}],
"encoding": {
 "x": {"field": "title", "type": "nominal", "scale": {"range": [27, 935], "paddingInner": 0, "paddingOuter": 0}, "axis": null},
 "y": {"field": "title", "type": "nominal", "scale": {"range": [5, 80], "paddingInner": 0, "paddingOuter": 0}, "axis": null}},
"layer": [
 {"mark": {"type": "rect", "color": "#d4e7cf"}},
 {"mark": {"type": "text", "dy": -23.5, "fontSize": 17.8, "fontWeight": 400, "color": "#222"}, "encoding": {"text": {"field": "title"}}},
 {"mark": {"type": "tick", "orient": "horizontal", "size": 136, "thickness": 2, "color": "#333", "yOffset": -10.5}},
 {"mark": {"type": "text", "dy": 2, "fontSize": 15, "color": "#555"}, "encoding": {"text": {"field": "rsid"}}},
 {"mark": {"type": "text", "dy": 22.5, "fontSize": 13.9, "color": "#333"}, "encoding": {"text": {"field": "desc"}}},
 {"mark": {"type": "text", "align": "left", "dx": 11, "fontSize": 22, "font": "Liberation Sans", "fontWeight": 400, "color": "#111"},
  "encoding": {"x": {"field": "title", "type": "nominal", "bandPosition": 0, "scale": {"range": [27, 935], "paddingInner": 0, "paddingOuter": 0}, "axis": null}, "text": {"field": "label"}}}
]
},
{
"data": {"name": "pie"}, "transform": [{"filter": "datum.panel == 'C'"}],
"encoding": {"x": {"datum": "pie", "type": "nominal", "scale": {"type": "point", "domain": ["pie"], "range": [81, 176], "padding": 0.5}, "axis": null}},
"layer": [
 {"mark": {"type": "arc", "radius": 47.5, "stroke": "#222", "strokeWidth": 1.5},
  "encoding": {
   "y": {"datum": "pie", "type": "nominal", "scale": {"type": "point", "domain": ["Between-group", "pie", "Within-group"], "range": [146.5, 295], "padding": 0}, "axis": null},
   "theta": {"field": "pct", "type": "quantitative", "scale": {"range": [-0.2042, 6.0790]}},
   "color": {"field": "part", "type": "nominal", "scale": {"domain": ["Between-group", "Within-group"], "range": ["#3a6aa8", "#d52b55"]}, "legend": null}}},
 {"transform": [{"filter": "datum.part == 'Between-group'"}],
  "mark": {"type": "point", "shape": "M-1,-0.35H1V0.35H-1Z", "size": 9409, "filled": true, "opacity": 1, "fill": "#3a6aa8", "stroke": "#1a1a1a", "strokeWidth": 1.5},
  "encoding": {"y": {"field": "part", "type": "nominal", "scale": {"type": "point", "domain": ["Between-group", "pie", "Within-group"], "range": [146.5, 295], "padding": 0}, "axis": null}}},
 {"transform": [{"filter": "datum.part == 'Within-group'"}],
  "mark": {"type": "point", "shape": "M-1,-0.405H1V0.405H-1Z", "size": 7056, "filled": true, "opacity": 1, "fill": "#d52b55", "stroke": "#1a1a1a", "strokeWidth": 1.5},
  "encoding": {"y": {"field": "part", "type": "nominal", "scale": {"type": "point", "domain": ["Between-group", "pie", "Within-group"], "range": [146.5, 295], "padding": 0}, "axis": null}}},
 {"mark": {"type": "text", "dy": -7.5, "fontSize": 11.5, "font": "Liberation Sans", "fontWeight": 400, "color": "#f4f4f4"},
  "encoding": {"y": {"field": "part", "type": "nominal", "scale": {"type": "point", "domain": ["Between-group", "pie", "Within-group"], "range": [146.5, 295], "padding": 0}, "axis": null}, "text": {"field": "part"}}},
 {"mark": {"type": "text", "dy": 7.5, "fontSize": 11.5, "font": "Liberation Sans", "fontWeight": 400, "color": "#f4f4f4"},
  "encoding": {"y": {"field": "part", "type": "nominal", "scale": {"type": "point", "domain": ["Between-group", "pie", "Within-group"], "range": [146.5, 295], "padding": 0}, "axis": null}, "text": {"field": "label"}}},
 {"transform": [{"filter": "datum.part == 'Between-group'"}],
  "mark": {"type": "text", "text": "Variance partitioning", "dx": -4, "dy": -38.5, "fontSize": 17, "color": "#555"},
  "encoding": {"y": {"field": "part", "type": "nominal", "scale": {"type": "point", "domain": ["Between-group", "pie", "Within-group"], "range": [146.5, 295], "padding": 0}, "axis": null}}}
]
},
{
"resolve": {"scale": {"x": "independent"}},
"layer": [
 {"data": {"name": "box"}, "transform": [{"filter": "datum.panel == 'C' && datum.genotype == 'GG'"}], "mark": {"type": "rule", "color": "#111", "strokeWidth": 2.5},
  "encoding": {"x": {"field": "ancestry", "type": "nominal", "scale": {"domain": ["European", "African", "Native American"], "range": [240, 654], "paddingInner": 0.891, "paddingOuter": 0.4455}, "axis": null},
   "y": {"field": "min", "type": "quantitative", "scale": {"domain": [-0.04, 1], "range": [283.2, 200], "nice": false, "zero": false}, "axis": {"orient": "left", "offset": -284, "values": [0, 0.5, 1], "format": ".2f", "title": "Ancestry fraction", "grid": false, "domainColor": "#111", "domainWidth": 2.5, "tickColor": "#111", "tickWidth": 2, "tickSize": 3, "labelFontSize": 12.5, "labelColor": "#666", "labelPadding": 2, "titleFontSize": 13.5, "titleColor": "#666", "titleFontWeight": 300, "titlePadding": 5}},
   "y2": {"field": "max"}}},
 {"data": {"name": "box"}, "transform": [{"filter": "datum.panel == 'C' && datum.genotype == 'GA'"}], "mark": {"type": "rule", "color": "#111", "strokeWidth": 2.5},
  "encoding": {"x": {"field": "ancestry", "type": "nominal", "scale": {"domain": ["European", "African", "Native American"], "range": [280, 694], "paddingInner": 0.891, "paddingOuter": 0.4455}, "axis": null},
   "y": {"field": "min", "type": "quantitative", "scale": {"domain": [-0.04, 1], "range": [283.2, 200], "nice": false, "zero": false}, "axis": {"orient": "left", "offset": -284, "values": [0, 0.5, 1], "format": ".2f", "title": "Ancestry fraction", "grid": false, "domainColor": "#111", "domainWidth": 2.5, "tickColor": "#111", "tickWidth": 2, "tickSize": 3, "labelFontSize": 12.5, "labelColor": "#666", "labelPadding": 2, "titleFontSize": 13.5, "titleColor": "#666", "titleFontWeight": 300, "titlePadding": 5}},
   "y2": {"field": "max"}}},
 {"data": {"name": "box"}, "transform": [{"filter": "datum.panel == 'C' && datum.genotype == 'AA'"}], "mark": {"type": "rule", "color": "#111", "strokeWidth": 2.5},
  "encoding": {"x": {"field": "ancestry", "type": "nominal", "scale": {"domain": ["European", "African", "Native American"], "range": [320, 734], "paddingInner": 0.891, "paddingOuter": 0.4455}, "axis": null},
   "y": {"field": "min", "type": "quantitative", "scale": {"domain": [-0.04, 1], "range": [283.2, 200], "nice": false, "zero": false}, "axis": {"orient": "left", "offset": -284, "values": [0, 0.5, 1], "format": ".2f", "title": "Ancestry fraction", "grid": false, "domainColor": "#111", "domainWidth": 2.5, "tickColor": "#111", "tickWidth": 2, "tickSize": 3, "labelFontSize": 12.5, "labelColor": "#666", "labelPadding": 2, "titleFontSize": 13.5, "titleColor": "#666", "titleFontWeight": 300, "titlePadding": 5}},
   "y2": {"field": "max"}}},
 {"data": {"name": "box"}, "transform": [{"filter": "datum.panel == 'C' && datum.genotype == 'GG'"}], "mark": {"type": "bar", "stroke": "#111", "strokeWidth": 2.5},
  "encoding": {"x": {"field": "ancestry", "type": "nominal", "scale": {"domain": ["European", "African", "Native American"], "range": [240, 654], "paddingInner": 0.891, "paddingOuter": 0.4455}, "axis": null},
   "y": {"field": "q1", "type": "quantitative", "scale": {"domain": [-0.04, 1], "range": [283.2, 200], "nice": false, "zero": false}, "axis": {"orient": "left", "offset": -284, "values": [0, 0.5, 1], "format": ".2f", "title": "Ancestry fraction", "grid": false, "domainColor": "#111", "domainWidth": 2.5, "tickColor": "#111", "tickWidth": 2, "tickSize": 3, "labelFontSize": 12.5, "labelColor": "#666", "labelPadding": 2, "titleFontSize": 13.5, "titleColor": "#666", "titleFontWeight": 300, "titlePadding": 5}},
   "y2": {"field": "q3"},
   "color": {"field": "ancestry", "type": "nominal", "scale": {"domain": ["European", "African", "Native American"], "range": ["#f5a028", "#37308f", "#e2312b"]}, "legend": null}}},
 {"data": {"name": "box"}, "transform": [{"filter": "datum.panel == 'C' && datum.genotype == 'GA'"}], "mark": {"type": "bar", "stroke": "#111", "strokeWidth": 2.5},
  "encoding": {"x": {"field": "ancestry", "type": "nominal", "scale": {"domain": ["European", "African", "Native American"], "range": [280, 694], "paddingInner": 0.891, "paddingOuter": 0.4455}, "axis": null},
   "y": {"field": "q1", "type": "quantitative", "scale": {"domain": [-0.04, 1], "range": [283.2, 200], "nice": false, "zero": false}, "axis": {"orient": "left", "offset": -284, "values": [0, 0.5, 1], "format": ".2f", "title": "Ancestry fraction", "grid": false, "domainColor": "#111", "domainWidth": 2.5, "tickColor": "#111", "tickWidth": 2, "tickSize": 3, "labelFontSize": 12.5, "labelColor": "#666", "labelPadding": 2, "titleFontSize": 13.5, "titleColor": "#666", "titleFontWeight": 300, "titlePadding": 5}},
   "y2": {"field": "q3"},
   "color": {"field": "ancestry", "type": "nominal", "scale": {"domain": ["European", "African", "Native American"], "range": ["#f5a028", "#37308f", "#e2312b"]}, "legend": null}}},
 {"data": {"name": "box"}, "transform": [{"filter": "datum.panel == 'C' && datum.genotype == 'AA'"}], "mark": {"type": "bar", "stroke": "#111", "strokeWidth": 2.5},
  "encoding": {"x": {"field": "ancestry", "type": "nominal", "scale": {"domain": ["European", "African", "Native American"], "range": [320, 734], "paddingInner": 0.891, "paddingOuter": 0.4455}, "axis": null},
   "y": {"field": "q1", "type": "quantitative", "scale": {"domain": [-0.04, 1], "range": [283.2, 200], "nice": false, "zero": false}, "axis": {"orient": "left", "offset": -284, "values": [0, 0.5, 1], "format": ".2f", "title": "Ancestry fraction", "grid": false, "domainColor": "#111", "domainWidth": 2.5, "tickColor": "#111", "tickWidth": 2, "tickSize": 3, "labelFontSize": 12.5, "labelColor": "#666", "labelPadding": 2, "titleFontSize": 13.5, "titleColor": "#666", "titleFontWeight": 300, "titlePadding": 5}},
   "y2": {"field": "q3"},
   "color": {"field": "ancestry", "type": "nominal", "scale": {"domain": ["European", "African", "Native American"], "range": ["#f5a028", "#37308f", "#e2312b"]}, "legend": null}}},
 {"data": {"name": "box"}, "transform": [{"filter": "datum.panel == 'C' && datum.genotype == 'GG'"}], "mark": {"type": "tick", "orient": "horizontal", "color": "#111", "thickness": 4, "size": 16},
  "encoding": {"x": {"field": "ancestry", "type": "nominal", "scale": {"domain": ["European", "African", "Native American"], "range": [240, 654], "paddingInner": 0.891, "paddingOuter": 0.4455}, "axis": null},
   "y": {"field": "median", "type": "quantitative", "scale": {"domain": [-0.04, 1], "range": [283.2, 200], "nice": false, "zero": false}, "axis": {"orient": "left", "offset": -284, "values": [0, 0.5, 1], "format": ".2f", "title": "Ancestry fraction", "grid": false, "domainColor": "#111", "domainWidth": 2.5, "tickColor": "#111", "tickWidth": 2, "tickSize": 3, "labelFontSize": 12.5, "labelColor": "#666", "labelPadding": 2, "titleFontSize": 13.5, "titleColor": "#666", "titleFontWeight": 300, "titlePadding": 5}}}},
 {"data": {"name": "box"}, "transform": [{"filter": "datum.panel == 'C' && datum.genotype == 'GA'"}], "mark": {"type": "tick", "orient": "horizontal", "color": "#111", "thickness": 4, "size": 16},
  "encoding": {"x": {"field": "ancestry", "type": "nominal", "scale": {"domain": ["European", "African", "Native American"], "range": [280, 694], "paddingInner": 0.891, "paddingOuter": 0.4455}, "axis": null},
   "y": {"field": "median", "type": "quantitative", "scale": {"domain": [-0.04, 1], "range": [283.2, 200], "nice": false, "zero": false}, "axis": {"orient": "left", "offset": -284, "values": [0, 0.5, 1], "format": ".2f", "title": "Ancestry fraction", "grid": false, "domainColor": "#111", "domainWidth": 2.5, "tickColor": "#111", "tickWidth": 2, "tickSize": 3, "labelFontSize": 12.5, "labelColor": "#666", "labelPadding": 2, "titleFontSize": 13.5, "titleColor": "#666", "titleFontWeight": 300, "titlePadding": 5}}}},
 {"data": {"name": "box"}, "transform": [{"filter": "datum.panel == 'C' && datum.genotype == 'AA'"}], "mark": {"type": "tick", "orient": "horizontal", "color": "#111", "thickness": 4, "size": 16},
  "encoding": {"x": {"field": "ancestry", "type": "nominal", "scale": {"domain": ["European", "African", "Native American"], "range": [320, 734], "paddingInner": 0.891, "paddingOuter": 0.4455}, "axis": null},
   "y": {"field": "median", "type": "quantitative", "scale": {"domain": [-0.04, 1], "range": [283.2, 200], "nice": false, "zero": false}, "axis": {"orient": "left", "offset": -284, "values": [0, 0.5, 1], "format": ".2f", "title": "Ancestry fraction", "grid": false, "domainColor": "#111", "domainWidth": 2.5, "tickColor": "#111", "tickWidth": 2, "tickSize": 3, "labelFontSize": 12.5, "labelColor": "#666", "labelPadding": 2, "titleFontSize": 13.5, "titleColor": "#666", "titleFontWeight": 300, "titlePadding": 5}}}},
 {"data": {"name": "box"}, "transform": [{"filter": "datum.panel == 'C' && datum.genotype == 'GG'"}], "mark": {"type": "text", "baseline": "top", "dy": 3, "fontSize": 12.5, "color": "#666"},
  "encoding": {"x": {"field": "ancestry", "type": "nominal", "scale": {"domain": ["European", "African", "Native American"], "range": [240, 654], "paddingInner": 0.891, "paddingOuter": 0.4455}, "axis": null},
   "y": {"datum": -0.0875, "type": "quantitative", "scale": {"domain": [-0.04, 1], "range": [283.2, 200], "nice": false, "zero": false}, "axis": {"orient": "left", "offset": -284, "values": [0, 0.5, 1], "format": ".2f", "title": "Ancestry fraction", "grid": false, "domainColor": "#111", "domainWidth": 2.5, "tickColor": "#111", "tickWidth": 2, "tickSize": 3, "labelFontSize": 12.5, "labelColor": "#666", "labelPadding": 2, "titleFontSize": 13.5, "titleColor": "#666", "titleFontWeight": 300, "titlePadding": 5}}, "text": {"field": "genotype"}}},
 {"data": {"name": "box"}, "transform": [{"filter": "datum.panel == 'C' && datum.genotype == 'GA'"}], "mark": {"type": "text", "baseline": "top", "dy": 3, "fontSize": 12.5, "color": "#666"},
  "encoding": {"x": {"field": "ancestry", "type": "nominal", "scale": {"domain": ["European", "African", "Native American"], "range": [280, 694], "paddingInner": 0.891, "paddingOuter": 0.4455}, "axis": null},
   "y": {"datum": -0.0875, "type": "quantitative", "scale": {"domain": [-0.04, 1], "range": [283.2, 200], "nice": false, "zero": false}, "axis": {"orient": "left", "offset": -284, "values": [0, 0.5, 1], "format": ".2f", "title": "Ancestry fraction", "grid": false, "domainColor": "#111", "domainWidth": 2.5, "tickColor": "#111", "tickWidth": 2, "tickSize": 3, "labelFontSize": 12.5, "labelColor": "#666", "labelPadding": 2, "titleFontSize": 13.5, "titleColor": "#666", "titleFontWeight": 300, "titlePadding": 5}}, "text": {"field": "genotype"}}},
 {"data": {"name": "box"}, "transform": [{"filter": "datum.panel == 'C' && datum.genotype == 'AA'"}], "mark": {"type": "text", "baseline": "top", "dy": 3, "fontSize": 12.5, "color": "#666"},
  "encoding": {"x": {"field": "ancestry", "type": "nominal", "scale": {"domain": ["European", "African", "Native American"], "range": [320, 734], "paddingInner": 0.891, "paddingOuter": 0.4455}, "axis": null},
   "y": {"datum": -0.0875, "type": "quantitative", "scale": {"domain": [-0.04, 1], "range": [283.2, 200], "nice": false, "zero": false}, "axis": {"orient": "left", "offset": -284, "values": [0, 0.5, 1], "format": ".2f", "title": "Ancestry fraction", "grid": false, "domainColor": "#111", "domainWidth": 2.5, "tickColor": "#111", "tickWidth": 2, "tickSize": 3, "labelFontSize": 12.5, "labelColor": "#666", "labelPadding": 2, "titleFontSize": 13.5, "titleColor": "#666", "titleFontWeight": 300, "titlePadding": 5}}, "text": {"field": "genotype"}}},
 {"data": {"name": "bstats"}, "transform": [{"filter": "datum.panel == 'C'"}], "mark": {"type": "tick", "orient": "horizontal", "color": "#111", "thickness": 2.5, "size": 86},
  "encoding": {"x": {"field": "ancestry", "type": "nominal", "scale": {"domain": ["European", "African", "Native American"], "range": [280, 694], "paddingInner": 0, "paddingOuter": 0}, "axis": null},
   "y": {"datum": -0.0875, "type": "quantitative", "scale": {"domain": [-0.04, 1], "range": [283.2, 200], "nice": false, "zero": false}, "axis": {"orient": "left", "offset": -284, "values": [0, 0.5, 1], "format": ".2f", "title": "Ancestry fraction", "grid": false, "domainColor": "#111", "domainWidth": 2.5, "tickColor": "#111", "tickWidth": 2, "tickSize": 3, "labelFontSize": 12.5, "labelColor": "#666", "labelPadding": 2, "titleFontSize": 13.5, "titleColor": "#666", "titleFontWeight": 300, "titlePadding": 5}}}},
 {"data": {"name": "bstats"}, "transform": [{"filter": "datum.panel == 'C'"}], "mark": {"type": "text", "dy": -61, "fontSize": 16, "color": "#555"},
  "encoding": {"x": {"field": "ancestry", "type": "nominal", "scale": {"domain": ["European", "African", "Native American"], "range": [280, 694], "paddingInner": 0, "paddingOuter": 0}, "axis": null},
   "y": {"datum": 1, "type": "quantitative", "scale": {"domain": [-0.04, 1], "range": [283.2, 200], "nice": false, "zero": false}, "axis": {"orient": "left", "offset": -284, "values": [0, 0.5, 1], "format": ".2f", "title": "Ancestry fraction", "grid": false, "domainColor": "#111", "domainWidth": 2.5, "tickColor": "#111", "tickWidth": 2, "tickSize": 3, "labelFontSize": 12.5, "labelColor": "#666", "labelPadding": 2, "titleFontSize": 13.5, "titleColor": "#666", "titleFontWeight": 300, "titlePadding": 5}}, "text": {"field": "ancestry"}}},
 {"data": {"name": "bstats"}, "transform": [{"filter": "datum.panel == 'C'"}], "mark": {"type": "text", "dy": -40, "fontSize": 12.5, "color": "#555"},
  "encoding": {"x": {"field": "ancestry", "type": "nominal", "scale": {"domain": ["European", "African", "Native American"], "range": [280, 694], "paddingInner": 0, "paddingOuter": 0}, "axis": null},
   "y": {"datum": 1, "type": "quantitative", "scale": {"domain": [-0.04, 1], "range": [283.2, 200], "nice": false, "zero": false}, "axis": {"orient": "left", "offset": -284, "values": [0, 0.5, 1], "format": ".2f", "title": "Ancestry fraction", "grid": false, "domainColor": "#111", "domainWidth": 2.5, "tickColor": "#111", "tickWidth": 2, "tickSize": 3, "labelFontSize": 12.5, "labelColor": "#666", "labelPadding": 2, "titleFontSize": 13.5, "titleColor": "#666", "titleFontWeight": 300, "titlePadding": 5}}, "text": {"field": "beta"}}},
 {"data": {"name": "bstats"}, "transform": [{"filter": "datum.panel == 'C'"}], "mark": {"type": "text", "dy": -25, "fontSize": 12.5, "color": "#555"},
  "encoding": {"x": {"field": "ancestry", "type": "nominal", "scale": {"domain": ["European", "African", "Native American"], "range": [280, 694], "paddingInner": 0, "paddingOuter": 0}, "axis": null},
   "y": {"datum": 1, "type": "quantitative", "scale": {"domain": [-0.04, 1], "range": [283.2, 200], "nice": false, "zero": false}, "axis": {"orient": "left", "offset": -284, "values": [0, 0.5, 1], "format": ".2f", "title": "Ancestry fraction", "grid": false, "domainColor": "#111", "domainWidth": 2.5, "tickColor": "#111", "tickWidth": 2, "tickSize": 3, "labelFontSize": 12.5, "labelColor": "#666", "labelPadding": 2, "titleFontSize": 13.5, "titleColor": "#666", "titleFontWeight": 300, "titlePadding": 5}}, "text": {"field": "pval"}}},
 {"data": {"name": "bstats"}, "transform": [{"filter": "datum.panel == 'C' && datum.ancestry == 'African'"}], "mark": {"type": "text", "text": "Genotype", "dy": 23, "fontSize": 13.5, "color": "#666"},
  "encoding": {"x": {"field": "ancestry", "type": "nominal", "scale": {"domain": ["European", "African", "Native American"], "range": [280, 694], "paddingInner": 0, "paddingOuter": 0}, "axis": null},
   "y": {"datum": -0.0875, "type": "quantitative", "scale": {"domain": [-0.04, 1], "range": [283.2, 200], "nice": false, "zero": false}, "axis": {"orient": "left", "offset": -284, "values": [0, 0.5, 1], "format": ".2f", "title": "Ancestry fraction", "grid": false, "domainColor": "#111", "domainWidth": 2.5, "tickColor": "#111", "tickWidth": 2, "tickSize": 3, "labelFontSize": 12.5, "labelColor": "#666", "labelPadding": 2, "titleFontSize": 13.5, "titleColor": "#666", "titleFontWeight": 300, "titlePadding": 5}}}},
 {"data": {"name": "bstats"}, "transform": [{"filter": "datum.panel == 'C' && datum.ancestry == 'African'"}], "mark": {"type": "text", "text": "Ancestry Associations", "dx": -1, "dy": -92, "fontSize": 17, "color": "#555"},
  "encoding": {"x": {"field": "ancestry", "type": "nominal", "scale": {"domain": ["European", "African", "Native American"], "range": [280, 694], "paddingInner": 0, "paddingOuter": 0}, "axis": null},
   "y": {"datum": 1, "type": "quantitative", "scale": {"domain": [-0.04, 1], "range": [283.2, 200], "nice": false, "zero": false}, "axis": {"orient": "left", "offset": -284, "values": [0, 0.5, 1], "format": ".2f", "title": "Ancestry fraction", "grid": false, "domainColor": "#111", "domainWidth": 2.5, "tickColor": "#111", "tickWidth": 2, "tickSize": 3, "labelFontSize": 12.5, "labelColor": "#666", "labelPadding": 2, "titleFontSize": 13.5, "titleColor": "#666", "titleFontWeight": 300, "titlePadding": 5}}}}
]
},
{
"data": {"name": "heat"}, "transform": [{"filter": "datum.panel == 'C'"}],
"encoding": {
 "x": {"field": "col", "type": "nominal", "scale": {"domain": ["A", "G"], "range": [781, 871], "paddingInner": 0.11, "paddingOuter": 0}, "axis": null},
 "y": {"field": "row", "type": "nominal", "scale": {"domain": ["Hispanic", "Not Hispanic"], "range": [145, 234.5], "paddingInner": 0.11, "paddingOuter": 0}, "axis": null}},
"layer": [
 {"mark": {"type": "rect"}, "encoding": {"fill": {"field": "col", "type": "nominal", "scale": {"domain": ["A", "G"], "range": ["#2d2057", "#aaaaaa"]}, "legend": null}}},
 {"mark": {"type": "text", "fontSize": 13.5}, "encoding": {"text": {"field": "n", "type": "quantitative", "format": ",d"}, "color": {"field": "col", "type": "nominal", "scale": {"domain": ["A", "G"], "range": ["#cfcbe0", "#707070"]}, "legend": null}}},
 {"transform": [{"filter": "datum.row == 'Hispanic'"}], "mark": {"type": "text", "dy": -11, "fontSize": 14.5, "color": "#666"},
  "encoding": {"y": {"field": "row", "type": "nominal", "bandPosition": 0, "scale": {"domain": ["Hispanic", "Not Hispanic"], "range": [145, 234.5], "paddingInner": 0.11, "paddingOuter": 0}, "axis": null}, "text": {"field": "col"}}},
 {"transform": [{"filter": "datum.col == 'A'"}], "mark": {"type": "text", "align": "right", "dx": -6, "fontSize": 14.5, "color": "#666"},
  "encoding": {"x": {"field": "col", "type": "nominal", "bandPosition": 0, "scale": {"domain": ["A", "G"], "range": [781, 871], "paddingInner": 0.11, "paddingOuter": 0}, "axis": null}, "text": {"field": "row"}}},
 {"transform": [{"filter": "datum.row == 'Hispanic' && datum.col == 'A'"}], "mark": {"type": "text", "text": "Risk increase", "dx": 2.5, "dy": -37, "fontSize": 17, "color": "#555"},
  "encoding": {"x": {"field": "col", "type": "nominal", "bandPosition": 1, "scale": {"domain": ["A", "G"], "range": [781, 871], "paddingInner": 0.11, "paddingOuter": 0}, "axis": null},
   "y": {"field": "row", "type": "nominal", "bandPosition": 0, "scale": {"domain": ["Hispanic", "Not Hispanic"], "range": [145, 234.5], "paddingInner": 0.11, "paddingOuter": 0}, "axis": null}}}
]
},
{
"data": {"name": "metrics"}, "transform": [{"filter": "datum.panel == 'C'"}],
"encoding": {"y": {"field": "metric", "type": "nominal", "scale": {"type": "point", "domain": ["Odds Ratio", "Absolute Risk\nIncrease", "gap", "Accuracy"], "range": [248, 311], "padding": 0}, "axis": null}},
"layer": [
 {"mark": {"type": "text", "align": "right", "font": "Liberation Sans", "fontWeight": "bold", "fontSize": 14, "color": "#222", "lineBreak": "\n", "lineHeight": 18},
  "encoding": {"x": {"datum": "label", "type": "nominal", "scale": {"type": "point", "domain": ["label", "value"], "range": [856, 862], "padding": 0}, "axis": null}, "text": {"field": "metric"}}},
 {"transform": [{"filter": "indexof(datum.metric, 'Increase') < 0"}], "mark": {"type": "text", "align": "left", "fontSize": 15, "color": "#999"},
  "encoding": {"x": {"datum": "value", "type": "nominal", "scale": {"type": "point", "domain": ["label", "value"], "range": [856, 862], "padding": 0}, "axis": null}, "text": {"field": "value"}}},
 {"transform": [{"filter": "indexof(datum.metric, 'Increase') >= 0"}], "mark": {"type": "text", "align": "left", "dy": 10, "fontSize": 15, "color": "#999"},
  "encoding": {"x": {"datum": "value", "type": "nominal", "scale": {"type": "point", "domain": ["label", "value"], "range": [856, 862], "padding": 0}, "axis": null}, "text": {"field": "value"}}}
]
}
]
},
{
"width": 938, "height": 320,
"resolve": {"scale": {"x": "independent", "y": "independent", "color": "independent"}},
"layer": [
{
"data": {"name": "header"}, "transform": [{"filter": "datum.panel == 'D'"}],
"encoding": {
 "x": {"field": "title", "type": "nominal", "scale": {"range": [27, 935], "paddingInner": 0, "paddingOuter": 0}, "axis": null},
 "y": {"field": "title", "type": "nominal", "scale": {"range": [5, 80], "paddingInner": 0, "paddingOuter": 0}, "axis": null}},
"layer": [
 {"mark": {"type": "rect", "color": "#d4e7cf"}},
 {"mark": {"type": "text", "dy": -23.5, "fontSize": 17.8, "fontWeight": 400, "color": "#222"}, "encoding": {"text": {"field": "title"}}},
 {"mark": {"type": "tick", "orient": "horizontal", "size": 136, "thickness": 2, "color": "#333", "yOffset": -10.5}},
 {"mark": {"type": "text", "dy": 2, "fontSize": 15, "color": "#555"}, "encoding": {"text": {"field": "rsid"}}},
 {"mark": {"type": "text", "dy": 22.5, "fontSize": 13.9, "color": "#333"}, "encoding": {"text": {"field": "desc"}}},
 {"mark": {"type": "text", "align": "left", "dx": 1, "fontSize": 22, "font": "Liberation Sans", "fontWeight": 400, "color": "#111"},
  "encoding": {"x": {"field": "title", "type": "nominal", "bandPosition": 0, "scale": {"range": [27, 935], "paddingInner": 0, "paddingOuter": 0}, "axis": null}, "text": {"field": "label"}}}
]
},
{
"data": {"name": "pie"}, "transform": [{"filter": "datum.panel == 'D'"}],
"encoding": {"x": {"datum": "pie", "type": "nominal", "scale": {"type": "point", "domain": ["pie"], "range": [81, 176], "padding": 0.5}, "axis": null}},
"layer": [
 {"mark": {"type": "arc", "radius": 47.5, "stroke": "#222", "strokeWidth": 1.5},
  "encoding": {
   "y": {"datum": "pie", "type": "nominal", "scale": {"type": "point", "domain": ["Between-group", "pie", "Within-group"], "range": [146.5, 295], "padding": 0}, "axis": null},
   "theta": {"field": "pct", "type": "quantitative", "scale": {"range": [-0.4430, 5.8402]}},
   "color": {"field": "part", "type": "nominal", "scale": {"domain": ["Between-group", "Within-group"], "range": ["#3a6aa8", "#d52b55"]}, "legend": null}}},
 {"transform": [{"filter": "datum.part == 'Between-group'"}],
  "mark": {"type": "point", "shape": "M-1,-0.35H1V0.35H-1Z", "size": 9409, "filled": true, "opacity": 1, "fill": "#3a6aa8", "stroke": "#1a1a1a", "strokeWidth": 1.5},
  "encoding": {"y": {"field": "part", "type": "nominal", "scale": {"type": "point", "domain": ["Between-group", "pie", "Within-group"], "range": [146.5, 295], "padding": 0}, "axis": null}}},
 {"transform": [{"filter": "datum.part == 'Within-group'"}],
  "mark": {"type": "point", "shape": "M-1,-0.405H1V0.405H-1Z", "size": 7056, "filled": true, "opacity": 1, "fill": "#d52b55", "stroke": "#1a1a1a", "strokeWidth": 1.5},
  "encoding": {"y": {"field": "part", "type": "nominal", "scale": {"type": "point", "domain": ["Between-group", "pie", "Within-group"], "range": [146.5, 295], "padding": 0}, "axis": null}}},
 {"mark": {"type": "text", "dy": -7.5, "fontSize": 11.5, "font": "Liberation Sans", "fontWeight": 400, "color": "#f4f4f4"},
  "encoding": {"y": {"field": "part", "type": "nominal", "scale": {"type": "point", "domain": ["Between-group", "pie", "Within-group"], "range": [146.5, 295], "padding": 0}, "axis": null}, "text": {"field": "part"}}},
 {"mark": {"type": "text", "dy": 7.5, "fontSize": 11.5, "font": "Liberation Sans", "fontWeight": 400, "color": "#f4f4f4"},
  "encoding": {"y": {"field": "part", "type": "nominal", "scale": {"type": "point", "domain": ["Between-group", "pie", "Within-group"], "range": [146.5, 295], "padding": 0}, "axis": null}, "text": {"field": "label"}}},
 {"transform": [{"filter": "datum.part == 'Between-group'"}],
  "mark": {"type": "text", "text": "Variance partitioning", "dx": -4, "dy": -38.5, "fontSize": 17, "color": "#555"},
  "encoding": {"y": {"field": "part", "type": "nominal", "scale": {"type": "point", "domain": ["Between-group", "pie", "Within-group"], "range": [146.5, 295], "padding": 0}, "axis": null}}}
]
},
{
"resolve": {"scale": {"x": "independent"}},
"layer": [
 {"data": {"name": "box"}, "transform": [{"filter": "datum.panel == 'D' && datum.genotype == 'CC'"}], "mark": {"type": "rule", "color": "#111", "strokeWidth": 2.5},
  "encoding": {"x": {"field": "ancestry", "type": "nominal", "scale": {"domain": ["European", "African", "Native American"], "range": [240, 654], "paddingInner": 0.891, "paddingOuter": 0.4455}, "axis": null},
   "y": {"field": "min", "type": "quantitative", "scale": {"domain": [-0.04, 1], "range": [283.2, 200], "nice": false, "zero": false}, "axis": {"orient": "left", "offset": -284, "values": [0, 0.5, 1], "format": ".2f", "title": "Ancestry fraction", "grid": false, "domainColor": "#111", "domainWidth": 2.5, "tickColor": "#111", "tickWidth": 2, "tickSize": 3, "labelFontSize": 12.5, "labelColor": "#666", "labelPadding": 2, "titleFontSize": 13.5, "titleColor": "#666", "titleFontWeight": 300, "titlePadding": 5}},
   "y2": {"field": "max"}}},
 {"data": {"name": "box"}, "transform": [{"filter": "datum.panel == 'D' && datum.genotype == 'CT'"}], "mark": {"type": "rule", "color": "#111", "strokeWidth": 2.5},
  "encoding": {"x": {"field": "ancestry", "type": "nominal", "scale": {"domain": ["European", "African", "Native American"], "range": [280, 694], "paddingInner": 0.891, "paddingOuter": 0.4455}, "axis": null},
   "y": {"field": "min", "type": "quantitative", "scale": {"domain": [-0.04, 1], "range": [283.2, 200], "nice": false, "zero": false}, "axis": {"orient": "left", "offset": -284, "values": [0, 0.5, 1], "format": ".2f", "title": "Ancestry fraction", "grid": false, "domainColor": "#111", "domainWidth": 2.5, "tickColor": "#111", "tickWidth": 2, "tickSize": 3, "labelFontSize": 12.5, "labelColor": "#666", "labelPadding": 2, "titleFontSize": 13.5, "titleColor": "#666", "titleFontWeight": 300, "titlePadding": 5}},
   "y2": {"field": "max"}}},
 {"data": {"name": "box"}, "transform": [{"filter": "datum.panel == 'D' && datum.genotype == 'TT'"}], "mark": {"type": "rule", "color": "#111", "strokeWidth": 2.5},
  "encoding": {"x": {"field": "ancestry", "type": "nominal", "scale": {"domain": ["European", "African", "Native American"], "range": [320, 734], "paddingInner": 0.891, "paddingOuter": 0.4455}, "axis": null},
   "y": {"field": "min", "type": "quantitative", "scale": {"domain": [-0.04, 1], "range": [283.2, 200], "nice": false, "zero": false}, "axis": {"orient": "left", "offset": -284, "values": [0, 0.5, 1], "format": ".2f", "title": "Ancestry fraction", "grid": false, "domainColor": "#111", "domainWidth": 2.5, "tickColor": "#111", "tickWidth": 2, "tickSize": 3, "labelFontSize": 12.5, "labelColor": "#666", "labelPadding": 2, "titleFontSize": 13.5, "titleColor": "#666", "titleFontWeight": 300, "titlePadding": 5}},
   "y2": {"field": "max"}}},
 {"data": {"name": "box"}, "transform": [{"filter": "datum.panel == 'D' && datum.genotype == 'CC'"}], "mark": {"type": "bar", "stroke": "#111", "strokeWidth": 2.5},
  "encoding": {"x": {"field": "ancestry", "type": "nominal", "scale": {"domain": ["European", "African", "Native American"], "range": [240, 654], "paddingInner": 0.891, "paddingOuter": 0.4455}, "axis": null},
   "y": {"field": "q1", "type": "quantitative", "scale": {"domain": [-0.04, 1], "range": [283.2, 200], "nice": false, "zero": false}, "axis": {"orient": "left", "offset": -284, "values": [0, 0.5, 1], "format": ".2f", "title": "Ancestry fraction", "grid": false, "domainColor": "#111", "domainWidth": 2.5, "tickColor": "#111", "tickWidth": 2, "tickSize": 3, "labelFontSize": 12.5, "labelColor": "#666", "labelPadding": 2, "titleFontSize": 13.5, "titleColor": "#666", "titleFontWeight": 300, "titlePadding": 5}},
   "y2": {"field": "q3"},
   "color": {"field": "ancestry", "type": "nominal", "scale": {"domain": ["European", "African", "Native American"], "range": ["#f5a028", "#37308f", "#e2312b"]}, "legend": null}}},
 {"data": {"name": "box"}, "transform": [{"filter": "datum.panel == 'D' && datum.genotype == 'CT'"}], "mark": {"type": "bar", "stroke": "#111", "strokeWidth": 2.5},
  "encoding": {"x": {"field": "ancestry", "type": "nominal", "scale": {"domain": ["European", "African", "Native American"], "range": [280, 694], "paddingInner": 0.891, "paddingOuter": 0.4455}, "axis": null},
   "y": {"field": "q1", "type": "quantitative", "scale": {"domain": [-0.04, 1], "range": [283.2, 200], "nice": false, "zero": false}, "axis": {"orient": "left", "offset": -284, "values": [0, 0.5, 1], "format": ".2f", "title": "Ancestry fraction", "grid": false, "domainColor": "#111", "domainWidth": 2.5, "tickColor": "#111", "tickWidth": 2, "tickSize": 3, "labelFontSize": 12.5, "labelColor": "#666", "labelPadding": 2, "titleFontSize": 13.5, "titleColor": "#666", "titleFontWeight": 300, "titlePadding": 5}},
   "y2": {"field": "q3"},
   "color": {"field": "ancestry", "type": "nominal", "scale": {"domain": ["European", "African", "Native American"], "range": ["#f5a028", "#37308f", "#e2312b"]}, "legend": null}}},
 {"data": {"name": "box"}, "transform": [{"filter": "datum.panel == 'D' && datum.genotype == 'TT'"}], "mark": {"type": "bar", "stroke": "#111", "strokeWidth": 2.5},
  "encoding": {"x": {"field": "ancestry", "type": "nominal", "scale": {"domain": ["European", "African", "Native American"], "range": [320, 734], "paddingInner": 0.891, "paddingOuter": 0.4455}, "axis": null},
   "y": {"field": "q1", "type": "quantitative", "scale": {"domain": [-0.04, 1], "range": [283.2, 200], "nice": false, "zero": false}, "axis": {"orient": "left", "offset": -284, "values": [0, 0.5, 1], "format": ".2f", "title": "Ancestry fraction", "grid": false, "domainColor": "#111", "domainWidth": 2.5, "tickColor": "#111", "tickWidth": 2, "tickSize": 3, "labelFontSize": 12.5, "labelColor": "#666", "labelPadding": 2, "titleFontSize": 13.5, "titleColor": "#666", "titleFontWeight": 300, "titlePadding": 5}},
   "y2": {"field": "q3"},
   "color": {"field": "ancestry", "type": "nominal", "scale": {"domain": ["European", "African", "Native American"], "range": ["#f5a028", "#37308f", "#e2312b"]}, "legend": null}}},
 {"data": {"name": "box"}, "transform": [{"filter": "datum.panel == 'D' && datum.genotype == 'CC'"}], "mark": {"type": "tick", "orient": "horizontal", "color": "#111", "thickness": 4, "size": 16},
  "encoding": {"x": {"field": "ancestry", "type": "nominal", "scale": {"domain": ["European", "African", "Native American"], "range": [240, 654], "paddingInner": 0.891, "paddingOuter": 0.4455}, "axis": null},
   "y": {"field": "median", "type": "quantitative", "scale": {"domain": [-0.04, 1], "range": [283.2, 200], "nice": false, "zero": false}, "axis": {"orient": "left", "offset": -284, "values": [0, 0.5, 1], "format": ".2f", "title": "Ancestry fraction", "grid": false, "domainColor": "#111", "domainWidth": 2.5, "tickColor": "#111", "tickWidth": 2, "tickSize": 3, "labelFontSize": 12.5, "labelColor": "#666", "labelPadding": 2, "titleFontSize": 13.5, "titleColor": "#666", "titleFontWeight": 300, "titlePadding": 5}}}},
 {"data": {"name": "box"}, "transform": [{"filter": "datum.panel == 'D' && datum.genotype == 'CT'"}], "mark": {"type": "tick", "orient": "horizontal", "color": "#111", "thickness": 4, "size": 16},
  "encoding": {"x": {"field": "ancestry", "type": "nominal", "scale": {"domain": ["European", "African", "Native American"], "range": [280, 694], "paddingInner": 0.891, "paddingOuter": 0.4455}, "axis": null},
   "y": {"field": "median", "type": "quantitative", "scale": {"domain": [-0.04, 1], "range": [283.2, 200], "nice": false, "zero": false}, "axis": {"orient": "left", "offset": -284, "values": [0, 0.5, 1], "format": ".2f", "title": "Ancestry fraction", "grid": false, "domainColor": "#111", "domainWidth": 2.5, "tickColor": "#111", "tickWidth": 2, "tickSize": 3, "labelFontSize": 12.5, "labelColor": "#666", "labelPadding": 2, "titleFontSize": 13.5, "titleColor": "#666", "titleFontWeight": 300, "titlePadding": 5}}}},
 {"data": {"name": "box"}, "transform": [{"filter": "datum.panel == 'D' && datum.genotype == 'TT'"}], "mark": {"type": "tick", "orient": "horizontal", "color": "#111", "thickness": 4, "size": 16},
  "encoding": {"x": {"field": "ancestry", "type": "nominal", "scale": {"domain": ["European", "African", "Native American"], "range": [320, 734], "paddingInner": 0.891, "paddingOuter": 0.4455}, "axis": null},
   "y": {"field": "median", "type": "quantitative", "scale": {"domain": [-0.04, 1], "range": [283.2, 200], "nice": false, "zero": false}, "axis": {"orient": "left", "offset": -284, "values": [0, 0.5, 1], "format": ".2f", "title": "Ancestry fraction", "grid": false, "domainColor": "#111", "domainWidth": 2.5, "tickColor": "#111", "tickWidth": 2, "tickSize": 3, "labelFontSize": 12.5, "labelColor": "#666", "labelPadding": 2, "titleFontSize": 13.5, "titleColor": "#666", "titleFontWeight": 300, "titlePadding": 5}}}},
 {"data": {"name": "box"}, "transform": [{"filter": "datum.panel == 'D' && datum.genotype == 'CC'"}], "mark": {"type": "text", "baseline": "top", "dy": 3, "fontSize": 12.5, "color": "#666"},
  "encoding": {"x": {"field": "ancestry", "type": "nominal", "scale": {"domain": ["European", "African", "Native American"], "range": [240, 654], "paddingInner": 0.891, "paddingOuter": 0.4455}, "axis": null},
   "y": {"datum": -0.0875, "type": "quantitative", "scale": {"domain": [-0.04, 1], "range": [283.2, 200], "nice": false, "zero": false}, "axis": {"orient": "left", "offset": -284, "values": [0, 0.5, 1], "format": ".2f", "title": "Ancestry fraction", "grid": false, "domainColor": "#111", "domainWidth": 2.5, "tickColor": "#111", "tickWidth": 2, "tickSize": 3, "labelFontSize": 12.5, "labelColor": "#666", "labelPadding": 2, "titleFontSize": 13.5, "titleColor": "#666", "titleFontWeight": 300, "titlePadding": 5}}, "text": {"field": "genotype"}}},
 {"data": {"name": "box"}, "transform": [{"filter": "datum.panel == 'D' && datum.genotype == 'CT'"}], "mark": {"type": "text", "baseline": "top", "dy": 3, "fontSize": 12.5, "color": "#666"},
  "encoding": {"x": {"field": "ancestry", "type": "nominal", "scale": {"domain": ["European", "African", "Native American"], "range": [280, 694], "paddingInner": 0.891, "paddingOuter": 0.4455}, "axis": null},
   "y": {"datum": -0.0875, "type": "quantitative", "scale": {"domain": [-0.04, 1], "range": [283.2, 200], "nice": false, "zero": false}, "axis": {"orient": "left", "offset": -284, "values": [0, 0.5, 1], "format": ".2f", "title": "Ancestry fraction", "grid": false, "domainColor": "#111", "domainWidth": 2.5, "tickColor": "#111", "tickWidth": 2, "tickSize": 3, "labelFontSize": 12.5, "labelColor": "#666", "labelPadding": 2, "titleFontSize": 13.5, "titleColor": "#666", "titleFontWeight": 300, "titlePadding": 5}}, "text": {"field": "genotype"}}},
 {"data": {"name": "box"}, "transform": [{"filter": "datum.panel == 'D' && datum.genotype == 'TT'"}], "mark": {"type": "text", "baseline": "top", "dy": 3, "fontSize": 12.5, "color": "#666"},
  "encoding": {"x": {"field": "ancestry", "type": "nominal", "scale": {"domain": ["European", "African", "Native American"], "range": [320, 734], "paddingInner": 0.891, "paddingOuter": 0.4455}, "axis": null},
   "y": {"datum": -0.0875, "type": "quantitative", "scale": {"domain": [-0.04, 1], "range": [283.2, 200], "nice": false, "zero": false}, "axis": {"orient": "left", "offset": -284, "values": [0, 0.5, 1], "format": ".2f", "title": "Ancestry fraction", "grid": false, "domainColor": "#111", "domainWidth": 2.5, "tickColor": "#111", "tickWidth": 2, "tickSize": 3, "labelFontSize": 12.5, "labelColor": "#666", "labelPadding": 2, "titleFontSize": 13.5, "titleColor": "#666", "titleFontWeight": 300, "titlePadding": 5}}, "text": {"field": "genotype"}}},
 {"data": {"name": "bstats"}, "transform": [{"filter": "datum.panel == 'D'"}], "mark": {"type": "tick", "orient": "horizontal", "color": "#111", "thickness": 2.5, "size": 86},
  "encoding": {"x": {"field": "ancestry", "type": "nominal", "scale": {"domain": ["European", "African", "Native American"], "range": [280, 694], "paddingInner": 0, "paddingOuter": 0}, "axis": null},
   "y": {"datum": -0.0875, "type": "quantitative", "scale": {"domain": [-0.04, 1], "range": [283.2, 200], "nice": false, "zero": false}, "axis": {"orient": "left", "offset": -284, "values": [0, 0.5, 1], "format": ".2f", "title": "Ancestry fraction", "grid": false, "domainColor": "#111", "domainWidth": 2.5, "tickColor": "#111", "tickWidth": 2, "tickSize": 3, "labelFontSize": 12.5, "labelColor": "#666", "labelPadding": 2, "titleFontSize": 13.5, "titleColor": "#666", "titleFontWeight": 300, "titlePadding": 5}}}},
 {"data": {"name": "bstats"}, "transform": [{"filter": "datum.panel == 'D'"}], "mark": {"type": "text", "dy": -61, "fontSize": 16, "color": "#555"},
  "encoding": {"x": {"field": "ancestry", "type": "nominal", "scale": {"domain": ["European", "African", "Native American"], "range": [280, 694], "paddingInner": 0, "paddingOuter": 0}, "axis": null},
   "y": {"datum": 1, "type": "quantitative", "scale": {"domain": [-0.04, 1], "range": [283.2, 200], "nice": false, "zero": false}, "axis": {"orient": "left", "offset": -284, "values": [0, 0.5, 1], "format": ".2f", "title": "Ancestry fraction", "grid": false, "domainColor": "#111", "domainWidth": 2.5, "tickColor": "#111", "tickWidth": 2, "tickSize": 3, "labelFontSize": 12.5, "labelColor": "#666", "labelPadding": 2, "titleFontSize": 13.5, "titleColor": "#666", "titleFontWeight": 300, "titlePadding": 5}}, "text": {"field": "ancestry"}}},
 {"data": {"name": "bstats"}, "transform": [{"filter": "datum.panel == 'D'"}], "mark": {"type": "text", "dy": -40, "fontSize": 12.5, "color": "#555"},
  "encoding": {"x": {"field": "ancestry", "type": "nominal", "scale": {"domain": ["European", "African", "Native American"], "range": [280, 694], "paddingInner": 0, "paddingOuter": 0}, "axis": null},
   "y": {"datum": 1, "type": "quantitative", "scale": {"domain": [-0.04, 1], "range": [283.2, 200], "nice": false, "zero": false}, "axis": {"orient": "left", "offset": -284, "values": [0, 0.5, 1], "format": ".2f", "title": "Ancestry fraction", "grid": false, "domainColor": "#111", "domainWidth": 2.5, "tickColor": "#111", "tickWidth": 2, "tickSize": 3, "labelFontSize": 12.5, "labelColor": "#666", "labelPadding": 2, "titleFontSize": 13.5, "titleColor": "#666", "titleFontWeight": 300, "titlePadding": 5}}, "text": {"field": "beta"}}},
 {"data": {"name": "bstats"}, "transform": [{"filter": "datum.panel == 'D'"}], "mark": {"type": "text", "dy": -25, "fontSize": 12.5, "color": "#555"},
  "encoding": {"x": {"field": "ancestry", "type": "nominal", "scale": {"domain": ["European", "African", "Native American"], "range": [280, 694], "paddingInner": 0, "paddingOuter": 0}, "axis": null},
   "y": {"datum": 1, "type": "quantitative", "scale": {"domain": [-0.04, 1], "range": [283.2, 200], "nice": false, "zero": false}, "axis": {"orient": "left", "offset": -284, "values": [0, 0.5, 1], "format": ".2f", "title": "Ancestry fraction", "grid": false, "domainColor": "#111", "domainWidth": 2.5, "tickColor": "#111", "tickWidth": 2, "tickSize": 3, "labelFontSize": 12.5, "labelColor": "#666", "labelPadding": 2, "titleFontSize": 13.5, "titleColor": "#666", "titleFontWeight": 300, "titlePadding": 5}}, "text": {"field": "pval"}}},
 {"data": {"name": "bstats"}, "transform": [{"filter": "datum.panel == 'D' && datum.ancestry == 'African'"}], "mark": {"type": "text", "text": "Genotype", "dy": 23, "fontSize": 13.5, "color": "#666"},
  "encoding": {"x": {"field": "ancestry", "type": "nominal", "scale": {"domain": ["European", "African", "Native American"], "range": [280, 694], "paddingInner": 0, "paddingOuter": 0}, "axis": null},
   "y": {"datum": -0.0875, "type": "quantitative", "scale": {"domain": [-0.04, 1], "range": [283.2, 200], "nice": false, "zero": false}, "axis": {"orient": "left", "offset": -284, "values": [0, 0.5, 1], "format": ".2f", "title": "Ancestry fraction", "grid": false, "domainColor": "#111", "domainWidth": 2.5, "tickColor": "#111", "tickWidth": 2, "tickSize": 3, "labelFontSize": 12.5, "labelColor": "#666", "labelPadding": 2, "titleFontSize": 13.5, "titleColor": "#666", "titleFontWeight": 300, "titlePadding": 5}}}},
 {"data": {"name": "bstats"}, "transform": [{"filter": "datum.panel == 'D' && datum.ancestry == 'African'"}], "mark": {"type": "text", "text": "Ancestry Associations", "dx": -1, "dy": -92, "fontSize": 17, "color": "#555"},
  "encoding": {"x": {"field": "ancestry", "type": "nominal", "scale": {"domain": ["European", "African", "Native American"], "range": [280, 694], "paddingInner": 0, "paddingOuter": 0}, "axis": null},
   "y": {"datum": 1, "type": "quantitative", "scale": {"domain": [-0.04, 1], "range": [283.2, 200], "nice": false, "zero": false}, "axis": {"orient": "left", "offset": -284, "values": [0, 0.5, 1], "format": ".2f", "title": "Ancestry fraction", "grid": false, "domainColor": "#111", "domainWidth": 2.5, "tickColor": "#111", "tickWidth": 2, "tickSize": 3, "labelFontSize": 12.5, "labelColor": "#666", "labelPadding": 2, "titleFontSize": 13.5, "titleColor": "#666", "titleFontWeight": 300, "titlePadding": 5}}}}
]
},
{
"data": {"name": "heat"}, "transform": [{"filter": "datum.panel == 'D'"}],
"encoding": {
 "x": {"field": "col", "type": "nominal", "scale": {"domain": ["T", "C"], "range": [781, 871], "paddingInner": 0.11, "paddingOuter": 0}, "axis": null},
 "y": {"field": "row", "type": "nominal", "scale": {"domain": ["Black", "Not Black"], "range": [145, 234.5], "paddingInner": 0.11, "paddingOuter": 0}, "axis": null}},
"layer": [
 {"mark": {"type": "rect"}, "encoding": {"fill": {"field": "col", "type": "nominal", "scale": {"domain": ["T", "C"], "range": ["#2d2057", "#aaaaaa"]}, "legend": null}}},
 {"mark": {"type": "text", "fontSize": 13.5}, "encoding": {"text": {"field": "n", "type": "quantitative", "format": ",d"}, "color": {"field": "col", "type": "nominal", "scale": {"domain": ["T", "C"], "range": ["#cfcbe0", "#707070"]}, "legend": null}}},
 {"transform": [{"filter": "datum.row == 'Black'"}], "mark": {"type": "text", "dy": -11, "fontSize": 14.5, "color": "#666"},
  "encoding": {"y": {"field": "row", "type": "nominal", "bandPosition": 0, "scale": {"domain": ["Black", "Not Black"], "range": [145, 234.5], "paddingInner": 0.11, "paddingOuter": 0}, "axis": null}, "text": {"field": "col"}}},
 {"transform": [{"filter": "datum.col == 'T'"}], "mark": {"type": "text", "align": "right", "dx": -6, "fontSize": 14.5, "color": "#666"},
  "encoding": {"x": {"field": "col", "type": "nominal", "bandPosition": 0, "scale": {"domain": ["T", "C"], "range": [781, 871], "paddingInner": 0.11, "paddingOuter": 0}, "axis": null}, "text": {"field": "row"}}},
 {"transform": [{"filter": "datum.row == 'Black' && datum.col == 'T'"}], "mark": {"type": "text", "text": "Risk increase", "dx": 2.5, "dy": -37, "fontSize": 17, "color": "#555"},
  "encoding": {"x": {"field": "col", "type": "nominal", "bandPosition": 1, "scale": {"domain": ["T", "C"], "range": [781, 871], "paddingInner": 0.11, "paddingOuter": 0}, "axis": null},
   "y": {"field": "row", "type": "nominal", "bandPosition": 0, "scale": {"domain": ["Black", "Not Black"], "range": [145, 234.5], "paddingInner": 0.11, "paddingOuter": 0}, "axis": null}}}
]
},
{
"data": {"name": "metrics"}, "transform": [{"filter": "datum.panel == 'D'"}],
"encoding": {"y": {"field": "metric", "type": "nominal", "scale": {"type": "point", "domain": ["Odds Ratio", "Absolute Risk\nIncrease", "gap", "Accuracy"], "range": [248, 311], "padding": 0}, "axis": null}},
"layer": [
 {"mark": {"type": "text", "align": "right", "font": "Liberation Sans", "fontWeight": "bold", "fontSize": 14, "color": "#222", "lineBreak": "\n", "lineHeight": 18},
  "encoding": {"x": {"datum": "label", "type": "nominal", "scale": {"type": "point", "domain": ["label", "value"], "range": [856, 862], "padding": 0}, "axis": null}, "text": {"field": "metric"}}},
 {"transform": [{"filter": "indexof(datum.metric, 'Increase') < 0"}], "mark": {"type": "text", "align": "left", "fontSize": 15, "color": "#999"},
  "encoding": {"x": {"datum": "value", "type": "nominal", "scale": {"type": "point", "domain": ["label", "value"], "range": [856, 862], "padding": 0}, "axis": null}, "text": {"field": "value"}}},
 {"transform": [{"filter": "indexof(datum.metric, 'Increase') >= 0"}], "mark": {"type": "text", "align": "left", "dy": 10, "fontSize": 15, "color": "#999"},
  "encoding": {"x": {"datum": "value", "type": "nominal", "scale": {"type": "point", "domain": ["label", "value"], "range": [856, 862], "padding": 0}, "axis": null}, "text": {"field": "value"}}}
]
}
]
}
]
}
